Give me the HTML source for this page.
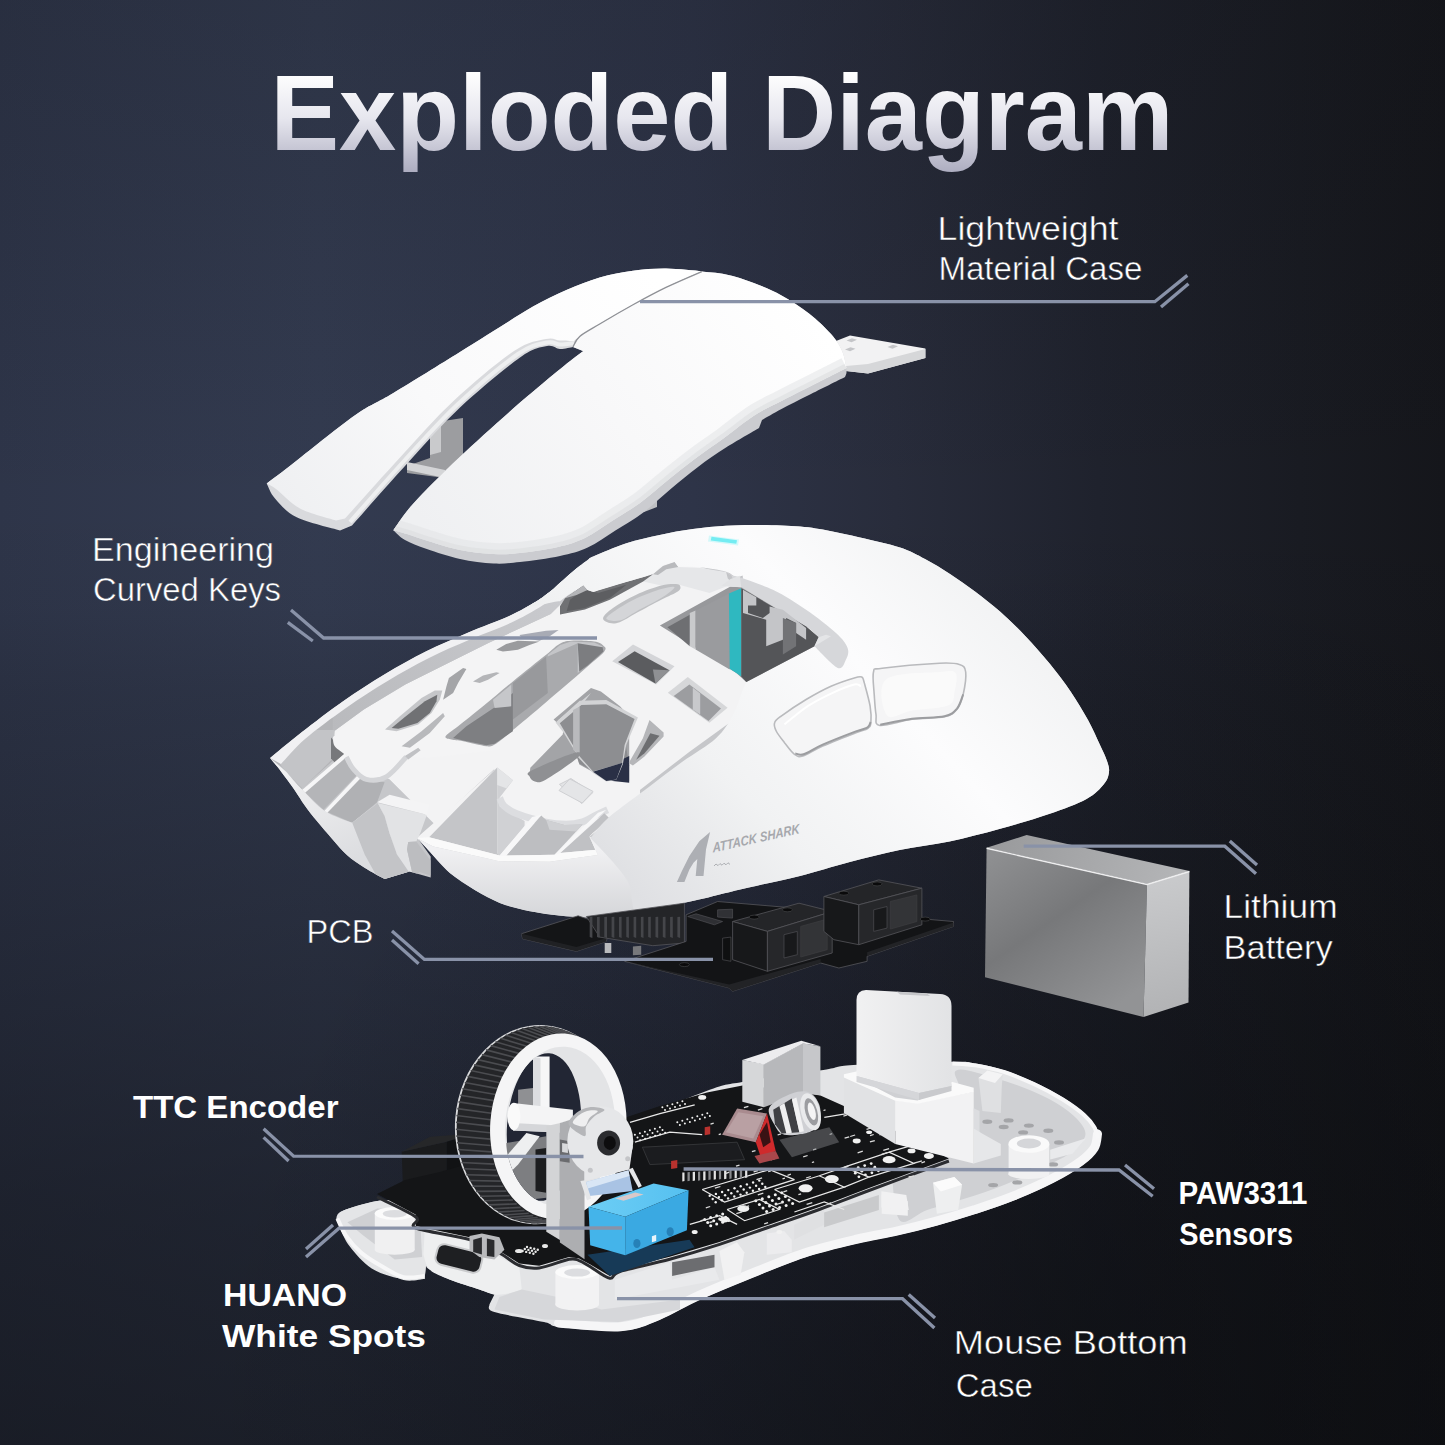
<!DOCTYPE html>
<html><head><meta charset="utf-8"><title>Exploded Diagram</title>
<style>html,body{margin:0;padding:0;background:#14161c;overflow:hidden}svg{display:block;font-family:"Liberation Sans",sans-serif;}</style>
</head><body>
<svg width="1445" height="1445" viewBox="0 0 1445 1445">
<defs>
<linearGradient id="bg" gradientUnits="userSpaceOnUse" x1="0" y1="0" x2="1445" y2="0">
<stop offset="0" stop-color="#2e3549"/><stop offset="0.22" stop-color="#333b50"/><stop offset="0.48" stop-color="#2e3448"/><stop offset="0.62" stop-color="#282c3b"/><stop offset="0.76" stop-color="#1f222d"/><stop offset="0.9" stop-color="#191b22"/><stop offset="1" stop-color="#15161b"/>
</linearGradient>
<linearGradient id="bg2" gradientUnits="userSpaceOnUse" x1="0" y1="0" x2="0" y2="1445">
<stop offset="0" stop-color="#0c0d10" stop-opacity="0.16"/><stop offset="0.14" stop-color="#0c0d10" stop-opacity="0.10"/><stop offset="0.28" stop-color="#0c0d10" stop-opacity="0.03"/><stop offset="0.35" stop-color="#0c0d10" stop-opacity="0"/><stop offset="0.42" stop-color="#0c0d10" stop-opacity="0.04"/><stop offset="0.48" stop-color="#0c0d10" stop-opacity="0.14"/><stop offset="0.62" stop-color="#0c0d10" stop-opacity="0.27"/><stop offset="0.72" stop-color="#0c0d10" stop-opacity="0.37"/><stop offset="0.83" stop-color="#0c0d10" stop-opacity="0.49"/><stop offset="1" stop-color="#0c0d10" stop-opacity="0.61"/>
</linearGradient>
<radialGradient id="bg3" gradientUnits="userSpaceOnUse" cx="1100" cy="1445" r="900">
<stop offset="0" stop-color="#08090b" stop-opacity="0.36"/><stop offset="0.5" stop-color="#08090b" stop-opacity="0.17"/><stop offset="1" stop-color="#08090b" stop-opacity="0"/>
</radialGradient>
<linearGradient id="tg" gradientUnits="userSpaceOnUse" x1="0" y1="72" x2="0" y2="176">
<stop offset="0" stop-color="#ffffff"/><stop offset="0.45" stop-color="#e6e6ee"/><stop offset="1" stop-color="#a9a9bd"/>
</linearGradient>
</defs>
<rect x="0" y="0" width="1445" height="1445" fill="url(#bg)"/>
<rect x="0" y="0" width="1445" height="1445" fill="url(#bg2)"/>
<rect x="0" y="0" width="1445" height="1445" fill="url(#bg3)"/>
<g id="top">
<defs>
<linearGradient id="tL" gradientUnits="userSpaceOnUse" x1="300" y1="520" x2="650" y2="270"><stop offset="0" stop-color="#eff0f2"/><stop offset="0.4" stop-color="#f9f9fa"/><stop offset="1" stop-color="#ffffff"/></linearGradient>
<linearGradient id="tR" gradientUnits="userSpaceOnUse" x1="450" y1="560" x2="800" y2="300"><stop offset="0" stop-color="#eff0f2"/><stop offset="0.5" stop-color="#f8f8f9"/><stop offset="1" stop-color="#ffffff"/></linearGradient>
</defs>
<polygon points="430.0,423.0 463.0,418.0 463.0,470.0 445.0,478.0 407.0,473.0 407.0,466.0 430.0,458.0" fill="#9c9da0"/>
<polygon points="430.0,428.0 441.0,425.0 441.0,452.0 430.0,455.0" fill="#c9cacc"/>
<polygon points="407.0,462.0 445.0,470.0 445.0,478.0 407.0,470.0" fill="#d4d5d7"/>
<polygon points="640.0,497.0 657.0,490.0 657.0,507.0 644.0,512.0" fill="#bfc0c3"/>
<polygon points="836.0,341.0 850.0,335.5 925.4,348.5 925.4,358.0 868.0,373.5 846.0,371.0" fill="#f2f2f3"/>
<polygon points="925.4,349.0 925.4,358.0 868.0,373.5 846.0,371.0 846.0,366.0 868.0,364.0" fill="#d6d7d9"/>
<polygon points="846.5,340.5 852.0,338.3 857.0,339.7 851.5,342.3" fill="#c4c5c8"/>
<polygon points="845.0,349.5 850.5,347.3 855.5,348.7 850.0,351.3" fill="#c4c5c8"/>
<polygon points="887.5,347.0 893.0,344.8 898.0,346.2 892.5,348.8" fill="#c4c5c8"/>
<path d="M266.7 483.5C271.1 480.2 283.0 471.3 293.0 463.5C303.0 455.7 315.6 445.4 326.7 436.8C337.8 428.2 348.6 419.3 359.7 412.0C370.8 404.7 376.7 403.0 393.4 393.0C410.1 383.0 442.2 363.0 460.0 352.0C477.8 341.0 487.8 334.6 500.0 327.0C512.2 319.4 521.9 312.7 533.0 306.5C544.1 300.3 555.3 294.9 566.4 290.0C577.5 285.1 588.6 280.6 599.7 277.4C610.8 274.2 622.0 272.3 633.0 270.8C644.0 269.3 654.5 268.5 666.0 268.6C677.5 268.7 695.8 270.9 701.8 271.3C695.8 274.0 677.5 281.8 666.0 287.4C654.5 293.0 644.0 298.7 633.0 304.8C622.0 310.9 608.6 318.7 599.7 324.0C590.8 329.3 584.2 332.6 579.7 336.4C575.2 340.2 574.1 345.2 573.0 347.0C570.8 347.3 564.3 349.2 560.0 349.0C555.7 348.8 553.7 344.6 547.0 346.0C540.3 347.4 534.5 347.2 520.0 357.5C505.5 367.8 478.9 389.8 460.0 407.5C441.1 425.2 424.8 444.3 406.8 464.0C388.8 483.7 361.1 515.2 352.0 525.5L340.0 530.5C332.8 528.3 307.5 522.6 296.7 517.3C285.9 512.0 280.0 504.1 275.0 498.5C270.0 492.9 268.1 486.0 266.7 483.5Z" fill="#d9dadd"/>
<path d="M266.7 483.5C271.1 480.2 283.0 471.3 293.0 463.5C303.0 455.7 315.6 445.4 326.7 436.8C337.8 428.2 348.6 419.3 359.7 412.0C370.8 404.7 376.7 403.0 393.4 393.0C410.1 383.0 442.2 363.0 460.0 352.0C477.8 341.0 487.8 334.6 500.0 327.0C512.2 319.4 521.9 312.7 533.0 306.5C544.1 300.3 555.3 294.9 566.4 290.0C577.5 285.1 588.6 280.6 599.7 277.4C610.8 274.2 622.0 272.3 633.0 270.8C644.0 269.3 654.5 268.5 666.0 268.6C677.5 268.7 695.8 270.9 701.8 271.3C695.8 274.0 677.5 281.8 666.0 287.4C654.5 293.0 644.0 298.7 633.0 304.8C622.0 310.9 608.6 318.7 599.7 324.0C590.8 329.3 584.0 333.6 579.7 336.4C575.4 339.2 575.0 340.2 574.0 341.0C571.7 340.9 564.7 340.8 560.0 340.5C555.3 340.2 553.7 337.2 546.0 339.0C538.3 340.8 529.3 340.8 514.0 351.0C498.7 361.2 473.0 382.8 454.0 400.5C435.0 418.2 418.2 437.8 400.0 457.5C381.8 477.2 354.2 508.3 345.0 518.5L336.0 520.5C330.0 518.5 310.0 513.8 300.0 508.5C290.0 503.2 281.6 493.2 276.0 489.0C270.4 484.8 268.2 484.4 266.7 483.5Z" fill="url(#tL)"/>
<path d="M574.0 343.0C571.7 343.2 564.5 344.6 560.0 344.5C555.5 344.4 554.0 340.9 547.0 342.5C540.0 344.1 532.8 343.8 518.0 354.0C503.2 364.2 477.0 386.2 458.0 404.0C439.0 421.8 422.0 441.3 404.0 461.0C386.0 480.7 359.0 511.8 350.0 522.0" fill="none" stroke="#eeeff0" stroke-width="4"/>
<path d="M393.4 530.2C396.7 525.8 402.3 515.7 413.4 503.5C424.5 491.3 441.1 474.6 460.0 456.8C478.9 439.0 506.8 414.0 526.8 396.8C546.8 379.6 569.8 360.7 580.0 353.4C590.2 346.1 586.7 353.1 588.0 353.0L573.0 347.0C574.1 345.2 575.2 340.2 579.7 336.4C584.2 332.6 590.8 329.3 599.7 324.0C608.6 318.7 622.0 310.9 633.0 304.8C644.0 298.7 654.5 292.9 666.0 287.4C677.5 281.9 695.8 274.2 701.8 271.6C705.8 272.1 717.3 272.7 726.0 274.6C734.7 276.5 744.5 279.5 753.8 283.0C763.0 286.5 772.3 290.3 781.5 295.4C790.7 300.5 800.8 307.0 809.0 313.4C817.2 319.8 825.5 327.8 831.0 334.0C836.5 340.2 839.4 344.7 842.0 350.7C844.6 356.7 846.0 365.6 846.5 370.0C847.0 374.4 845.2 375.8 845.0 377.0C839.0 380.0 819.6 389.7 809.0 395.0C798.4 400.3 789.3 404.8 781.5 409.0C773.7 413.2 765.2 418.2 762.0 420.0L759.0 428.0C753.5 431.3 736.2 441.1 726.0 447.6C715.8 454.1 707.2 460.1 698.0 467.0C688.8 473.9 679.9 481.4 670.7 489.0C661.5 496.6 652.3 505.8 643.0 512.7C633.7 519.7 624.2 524.9 615.0 530.7C605.8 536.5 596.9 543.3 587.7 547.5C578.5 551.7 571.3 553.6 560.0 556.0C548.7 558.4 531.1 560.8 520.0 562.0C508.9 563.2 503.5 564.0 493.5 563.5C483.5 563.0 471.1 561.4 460.0 559.0C448.9 556.6 436.0 552.2 426.8 549.0C417.6 545.8 410.6 543.1 405.0 540.0C399.4 536.9 395.3 531.8 393.4 530.2Z" fill="#cbccd0"/>
<path d="M393.4 530.2C396.7 525.8 402.3 515.7 413.4 503.5C424.5 491.3 441.1 474.6 460.0 456.8C478.9 439.0 506.8 414.0 526.8 396.8C546.8 379.6 569.8 360.7 580.0 353.4C590.2 346.1 586.7 353.1 588.0 353.0L573.0 347.0C574.1 345.2 575.2 340.2 579.7 336.4C584.2 332.6 590.8 329.3 599.7 324.0C608.6 318.7 622.0 310.9 633.0 304.8C644.0 298.7 654.5 292.9 666.0 287.4C677.5 281.9 695.8 274.2 701.8 271.6C705.8 272.1 717.3 272.7 726.0 274.6C734.7 276.5 744.5 279.5 753.8 283.0C763.0 286.5 772.3 290.3 781.5 295.4C790.7 300.5 800.8 307.0 809.0 313.4C817.2 319.8 825.5 327.8 831.0 334.0C836.5 340.2 839.4 345.0 842.0 350.7C844.6 356.4 845.8 365.1 846.5 368.0C840.2 371.2 819.8 381.5 809.0 387.0C798.2 392.5 790.5 396.3 781.5 401.0C772.5 405.7 764.6 408.8 755.0 415.0C745.4 421.2 733.8 430.8 724.0 438.0C714.2 445.2 705.3 451.0 696.0 458.0C686.7 465.0 677.3 472.5 668.0 480.0C658.7 487.5 649.3 496.2 640.0 503.0C630.7 509.8 621.2 515.2 612.0 521.0C602.8 526.8 594.0 533.7 585.0 538.0C576.0 542.3 568.8 544.5 558.0 547.0C547.2 549.5 530.8 551.8 520.0 553.0C509.2 554.2 503.5 554.5 493.5 554.0C483.5 553.5 470.9 552.2 460.0 550.0C449.1 547.8 436.8 543.7 428.0 541.0C419.2 538.3 412.8 535.8 407.0 534.0C401.2 532.2 395.7 530.8 393.4 530.2Z" fill="url(#tR)"/>
<clipPath id="rtc"><path d="M393.4 530.2C396.7 525.8 402.3 515.7 413.4 503.5C424.5 491.3 441.1 474.6 460.0 456.8C478.9 439.0 506.8 414.0 526.8 396.8C546.8 379.6 569.8 360.7 580.0 353.4C590.2 346.1 586.7 353.1 588.0 353.0L573.0 347.0C574.1 345.2 575.2 340.2 579.7 336.4C584.2 332.6 590.8 329.3 599.7 324.0C608.6 318.7 622.0 310.9 633.0 304.8C644.0 298.7 654.5 292.9 666.0 287.4C677.5 281.9 695.8 274.2 701.8 271.6C705.8 272.1 717.3 272.7 726.0 274.6C734.7 276.5 744.5 279.5 753.8 283.0C763.0 286.5 772.3 290.3 781.5 295.4C790.7 300.5 800.8 307.0 809.0 313.4C817.2 319.8 825.5 327.8 831.0 334.0C836.5 340.2 839.4 345.0 842.0 350.7C844.6 356.4 845.8 365.1 846.5 368.0C840.2 371.2 819.8 381.5 809.0 387.0C798.2 392.5 790.5 396.3 781.5 401.0C772.5 405.7 764.6 408.8 755.0 415.0C745.4 421.2 733.8 430.8 724.0 438.0C714.2 445.2 705.3 451.0 696.0 458.0C686.7 465.0 677.3 472.5 668.0 480.0C658.7 487.5 649.3 496.2 640.0 503.0C630.7 509.8 621.2 515.2 612.0 521.0C602.8 526.8 594.0 533.7 585.0 538.0C576.0 542.3 568.8 544.5 558.0 547.0C547.2 549.5 530.8 551.8 520.0 553.0C509.2 554.2 503.5 554.5 493.5 554.0C483.5 553.5 470.9 552.2 460.0 550.0C449.1 547.8 436.8 543.7 428.0 541.0C419.2 538.3 412.8 535.8 407.0 534.0C401.2 532.2 395.7 530.8 393.4 530.2Z"/></clipPath>
<g clip-path="url(#rtc)"><path d="M846.5 368.0C840.2 371.2 819.8 381.5 809.0 387.0C798.2 392.5 790.5 396.3 781.5 401.0C772.5 405.7 764.6 408.8 755.0 415.0C745.4 421.2 733.8 430.8 724.0 438.0C714.2 445.2 705.3 451.0 696.0 458.0C686.7 465.0 677.3 472.5 668.0 480.0C658.7 487.5 649.3 496.2 640.0 503.0C630.7 509.8 621.2 515.2 612.0 521.0C602.8 526.8 594.0 533.7 585.0 538.0C576.0 542.3 568.8 544.5 558.0 547.0C547.2 549.5 530.8 551.8 520.0 553.0C509.2 554.2 503.5 554.5 493.5 554.0C483.5 553.5 470.9 552.2 460.0 550.0C449.1 547.8 436.8 543.7 428.0 541.0C419.2 538.3 412.8 535.8 407.0 534.0C401.2 532.2 395.3 530.7 393.0 530.0" fill="none" stroke="#e2e3e6" stroke-width="22" opacity="0.55"/>
<path d="M846.5 368.0C840.2 371.2 819.8 381.5 809.0 387.0C798.2 392.5 790.5 396.3 781.5 401.0C772.5 405.7 764.6 408.8 755.0 415.0C745.4 421.2 733.8 430.8 724.0 438.0C714.2 445.2 705.3 451.0 696.0 458.0C686.7 465.0 677.3 472.5 668.0 480.0C658.7 487.5 649.3 496.2 640.0 503.0C630.7 509.8 621.2 515.2 612.0 521.0C602.8 526.8 594.0 533.7 585.0 538.0C576.0 542.3 568.8 544.5 558.0 547.0C547.2 549.5 530.8 551.8 520.0 553.0C509.2 554.2 503.5 554.5 493.5 554.0C483.5 553.5 470.9 552.2 460.0 550.0C449.1 547.8 436.8 543.7 428.0 541.0C419.2 538.3 412.8 535.8 407.0 534.0C401.2 532.2 395.3 530.7 393.0 530.0" fill="none" stroke="#dcdde0" stroke-width="9" opacity="0.6"/>
</g>
<path d="M701.8 271.6C695.8 274.2 677.5 281.9 666.0 287.4C654.5 292.9 644.0 298.7 633.0 304.8C622.0 310.9 608.6 318.7 599.7 324.0C590.8 329.3 584.2 332.6 579.7 336.4C575.2 340.2 574.1 345.2 573.0 347.0" fill="none" stroke="#8f9196" stroke-width="1.3"/>
</g>
<g id="mid">
<defs><linearGradient id="mS" gradientUnits="userSpaceOnUse" x1="640" y1="900" x2="1000" y2="560"><stop offset="0" stop-color="#dfe0e3"/><stop offset="0.3" stop-color="#f1f2f3"/><stop offset="0.65" stop-color="#fcfcfd"/><stop offset="1" stop-color="#f0f1f2"/></linearGradient><linearGradient id="mF" gradientUnits="userSpaceOnUse" x1="0" y1="850" x2="0" y2="915"><stop offset="0" stop-color="#f0f0f2"/><stop offset="1" stop-color="#d6d7da"/></linearGradient><linearGradient id="mW" gradientUnits="userSpaceOnUse" x1="280" y1="800" x2="600" y2="600"><stop offset="0" stop-color="#b4b5b8"/><stop offset="1" stop-color="#cbccd0"/></linearGradient><linearGradient id="mL" gradientUnits="userSpaceOnUse" x1="280" y1="760" x2="330" y2="870"><stop offset="0" stop-color="#f4f4f5"/><stop offset="1" stop-color="#dcdde0"/></linearGradient><clipPath id="silc"><path d="M270.0 758.0C275.2 753.7 289.3 741.8 301.5 732.3C313.7 722.8 329.1 710.9 343.0 701.2C356.9 691.5 370.8 682.5 384.6 674.2C398.5 665.9 412.3 658.2 426.1 651.3C439.9 644.4 453.8 638.6 467.6 632.7C481.4 626.8 497.7 621.2 509.1 616.0C520.5 610.8 529.2 605.6 536.1 601.5C543.0 597.4 546.7 594.2 550.7 591.1C554.7 588.0 556.1 586.2 560.0 582.8C563.9 579.4 569.4 574.3 574.0 570.5C578.6 566.7 584.5 562.3 587.7 560.0C590.9 557.7 586.8 559.3 593.2 556.5C599.7 553.7 615.3 546.8 626.4 543.2C637.5 539.6 648.6 537.3 659.7 534.9C670.8 532.5 681.9 530.5 692.9 529.0C703.9 527.5 714.9 526.4 726.0 525.7C737.1 525.0 747.0 524.9 759.3 525.0C771.6 525.1 788.2 525.6 800.0 526.6C811.8 527.6 820.0 529.2 830.0 531.0C840.0 532.8 848.3 534.8 860.0 537.5C871.7 540.2 889.2 543.9 900.0 547.5C910.8 551.1 916.7 554.6 925.0 559.0C933.3 563.4 941.7 568.6 950.0 574.0C958.3 579.4 966.7 585.2 975.0 591.5C983.3 597.8 991.7 604.2 1000.0 611.6C1008.3 619.0 1016.7 627.0 1025.0 635.7C1033.3 644.4 1042.4 654.7 1050.0 664.0C1057.6 673.3 1064.3 682.1 1070.6 691.4C1076.9 700.7 1083.1 711.1 1088.0 720.0C1092.9 728.9 1096.8 738.2 1100.0 745.0C1103.2 751.8 1105.5 756.5 1107.0 761.0C1108.5 765.5 1109.5 768.2 1109.0 772.0C1108.5 775.8 1107.8 779.5 1104.0 784.0C1100.2 788.5 1095.7 794.0 1086.5 799.0C1077.3 804.0 1063.5 809.0 1049.0 814.0C1034.5 819.0 1015.9 824.4 999.3 829.0C982.7 833.6 966.1 837.9 949.5 841.4C932.9 844.9 916.2 846.6 899.6 850.0C883.0 853.4 866.4 857.7 849.8 862.0C833.2 866.3 815.0 872.2 800.0 876.0C785.0 879.8 771.3 882.4 760.0 885.0C748.7 887.6 742.2 889.0 732.0 891.4C721.8 893.8 712.2 896.5 699.0 899.5C685.8 902.5 665.0 907.0 652.5 909.7C640.0 912.5 632.8 914.6 624.0 916.0C615.2 917.4 609.7 918.0 600.0 918.0C590.3 918.0 576.0 917.1 566.0 916.3C556.0 915.5 547.7 914.2 540.0 913.0C532.3 911.8 526.7 910.7 520.0 909.0C513.3 907.3 507.2 906.2 499.7 903.0C492.1 899.8 483.0 895.0 474.7 890.0C466.4 885.0 457.2 879.3 449.8 873.0C442.4 866.7 435.1 857.5 430.0 852.0C424.9 846.5 420.8 842.0 419.0 840.0L430.7 856.5L430.7 877.6L409.5 871.4L384.6 878.9C381.3 877.0 370.8 871.7 364.6 867.7C358.4 863.8 352.6 860.0 347.2 855.2C341.8 850.4 337.2 844.6 332.2 839.0C327.2 833.4 321.9 827.2 317.3 821.6C312.7 816.0 308.5 810.6 304.8 805.4C301.1 800.2 298.2 795.2 294.9 790.4C291.6 785.6 287.8 780.6 284.9 776.7C282.0 772.8 279.9 769.9 277.4 766.8C274.9 763.7 271.2 759.5 270.0 758.0Z"/></clipPath></defs>
<path d="M270.0 758.0C275.2 753.7 289.3 741.8 301.5 732.3C313.7 722.8 329.1 710.9 343.0 701.2C356.9 691.5 370.8 682.5 384.6 674.2C398.5 665.9 412.3 658.2 426.1 651.3C439.9 644.4 453.8 638.6 467.6 632.7C481.4 626.8 497.7 621.2 509.1 616.0C520.5 610.8 529.2 605.6 536.1 601.5C543.0 597.4 546.7 594.2 550.7 591.1C554.7 588.0 556.1 586.2 560.0 582.8C563.9 579.4 569.4 574.3 574.0 570.5C578.6 566.7 584.5 562.3 587.7 560.0C590.9 557.7 586.8 559.3 593.2 556.5C599.7 553.7 615.3 546.8 626.4 543.2C637.5 539.6 648.6 537.3 659.7 534.9C670.8 532.5 681.9 530.5 692.9 529.0C703.9 527.5 714.9 526.4 726.0 525.7C737.1 525.0 747.0 524.9 759.3 525.0C771.6 525.1 788.2 525.6 800.0 526.6C811.8 527.6 820.0 529.2 830.0 531.0C840.0 532.8 848.3 534.8 860.0 537.5C871.7 540.2 889.2 543.9 900.0 547.5C910.8 551.1 916.7 554.6 925.0 559.0C933.3 563.4 941.7 568.6 950.0 574.0C958.3 579.4 966.7 585.2 975.0 591.5C983.3 597.8 991.7 604.2 1000.0 611.6C1008.3 619.0 1016.7 627.0 1025.0 635.7C1033.3 644.4 1042.4 654.7 1050.0 664.0C1057.6 673.3 1064.3 682.1 1070.6 691.4C1076.9 700.7 1083.1 711.1 1088.0 720.0C1092.9 728.9 1096.8 738.2 1100.0 745.0C1103.2 751.8 1105.5 756.5 1107.0 761.0C1108.5 765.5 1109.5 768.2 1109.0 772.0C1108.5 775.8 1107.8 779.5 1104.0 784.0C1100.2 788.5 1095.7 794.0 1086.5 799.0C1077.3 804.0 1063.5 809.0 1049.0 814.0C1034.5 819.0 1015.9 824.4 999.3 829.0C982.7 833.6 966.1 837.9 949.5 841.4C932.9 844.9 916.2 846.6 899.6 850.0C883.0 853.4 866.4 857.7 849.8 862.0C833.2 866.3 815.0 872.2 800.0 876.0C785.0 879.8 771.3 882.4 760.0 885.0C748.7 887.6 742.2 889.0 732.0 891.4C721.8 893.8 712.2 896.5 699.0 899.5C685.8 902.5 665.0 907.0 652.5 909.7C640.0 912.5 632.8 914.6 624.0 916.0C615.2 917.4 609.7 918.0 600.0 918.0C590.3 918.0 576.0 917.1 566.0 916.3C556.0 915.5 547.7 914.2 540.0 913.0C532.3 911.8 526.7 910.7 520.0 909.0C513.3 907.3 507.2 906.2 499.7 903.0C492.1 899.8 483.0 895.0 474.7 890.0C466.4 885.0 457.2 879.3 449.8 873.0C442.4 866.7 435.1 857.5 430.0 852.0C424.9 846.5 420.8 842.0 419.0 840.0L430.7 856.5L430.7 877.6L409.5 871.4L384.6 878.9C381.3 877.0 370.8 871.7 364.6 867.7C358.4 863.8 352.6 860.0 347.2 855.2C341.8 850.4 337.2 844.6 332.2 839.0C327.2 833.4 321.9 827.2 317.3 821.6C312.7 816.0 308.5 810.6 304.8 805.4C301.1 800.2 298.2 795.2 294.9 790.4C291.6 785.6 287.8 780.6 284.9 776.7C282.0 772.8 279.9 769.9 277.4 766.8C274.9 763.7 271.2 759.5 270.0 758.0Z" fill="#c6c7ca"/>
<g clip-path="url(#silc)">
<polygon points="332.7,732.3 363.8,709.5 405.3,684.6 446.8,663.8 488.4,643.0 519.5,628.5 550.7,614.0 575.0,590.0 590.0,575.0 603.6,557.4 634.7,554.9 679.6,561.1 734.4,577.3 749.3,592.2 809.1,619.7 845.3,658.3 759.3,694.4 734.4,719.3 689.5,751.7 634.7,794.0 589.9,836.4 591.3,811.6 509.1,816.6 494.2,769.3 434.4,824.1 389.5,779.2 354.7,764.3 342.2,749.3" fill="#f3f3f4"/>
<polygon points="416.6,838.1 497.2,767.5 516.3,750.0 640.0,750.0 640.0,798.2 589.4,836.4 597.7,854.7 499.7,861.3" fill="#f3f3f4"/>
<polygon points="270.0,758.0 301.5,732.3 343.0,701.2 384.6,674.2 426.1,651.3 467.6,632.7 509.1,616.0 536.1,601.5 550.7,591.1 560.0,582.8 574.0,570.5 587.7,561.0 590.0,575.0 575.0,590.0 550.7,614.0 519.5,628.5 488.4,643.0 446.8,663.8 405.3,684.6 363.8,709.5 332.7,732.3 333.5,760.0 300.0,790.0 283.0,768.0" fill="url(#mW)"/>
<polygon points="283.0,768.0 301.5,742.0 332.7,715.0 332.7,732.3 333.5,760.0 300.0,790.0" fill="#b4b5b8"/>
<polygon points="275.0,756.8 307.4,730.0 334.8,730.0 332.9,758.6 302.4,788.5 286.2,772.4" fill="#c3c4c7"/>
<polygon points="331.0,737.5 344.7,753.7 334.8,762.4 331.0,758.6" fill="#77787b"/>
<polygon points="304.2,791.7 344.7,754.9 357.2,774.8 323.5,809.7" fill="#b4b5b8"/>
<polygon points="326.0,811.6 362.2,773.6 368.4,779.8 384.6,782.3 377.1,802.2 352.2,822.8" fill="#b0b1b4"/>
<polygon points="302.4,789.8 344.7,753.4 347.2,756.4 305.1,792.7" fill="#f6f6f7"/>
<polygon points="324.5,810.7 360.9,772.1 363.7,775.1 326.9,813.2" fill="#f6f6f7"/>
<path d="M333.0 737.0C338.1 732.7 351.8 719.5 363.8 711.0C375.9 702.5 391.5 693.7 405.3 686.0C419.1 678.3 433.0 672.0 446.8 665.0C460.6 658.0 481.5 647.5 488.4 644.0L500.0 654.8L500.0 749.5C487.7 750.9 441.8 756.7 426.1 757.8C410.5 758.9 412.8 753.1 406.2 756.1C399.5 759.2 389.6 772.8 386.2 776.1C382.9 776.5 371.8 780.0 366.3 778.6C360.8 777.2 356.3 771.5 353.0 767.8C349.7 764.0 349.4 759.7 346.4 756.1C343.3 752.5 337.0 749.4 334.8 746.2C332.5 743.0 333.3 738.5 333.0 737.0Z" fill="#f4f4f5"/>
<path d="M346.4 757.0C347.5 758.9 349.7 764.9 353.0 768.6C356.3 772.3 360.8 778.0 366.3 779.4C371.8 780.8 379.6 780.6 386.2 776.9C392.9 773.2 402.9 760.3 406.2 757.0" fill="none" stroke="#d4d5d8" stroke-width="5"/>
<polygon points="385.0,729.6 399.9,716.3 421.5,698.0 434.8,690.5 442.3,690.5 439.8,699.7 431.5,713.0 418.2,724.6 396.6,731.2" fill="#c5c6c9"/>
<polygon points="391.6,727.9 404.9,717.1 424.9,701.3 437.3,694.7 436.5,701.3 429.8,713.0 417.4,722.9 398.3,728.7" fill="#707174"/>
<polygon points="448.9,678.1 463.1,668.1 466.4,668.9 458.1,683.1 453.1,693.0 443.1,699.7 446.4,686.4" fill="#a4a5a8"/>
<polygon points="473.0,681.4 483.0,675.6 496.3,672.3 499.6,673.1 488.0,679.7 479.7,683.1" fill="#b4b5b8"/>
<polygon points="496.3,649.8 506.2,644.0 517.9,640.7 539.5,641.5 529.5,644.9 517.9,649.8 502.9,651.5" fill="#9a9b9e"/>
<polygon points="519.5,634.9 546.1,630.7 558.6,629.9 549.4,636.5 539.5,640.7 521.2,637.4" fill="#a8abb5"/>
<polygon points="401.6,746.2 421.5,731.2 443.1,713.0 444.8,716.3 429.8,732.9 409.9,747.8" fill="#b8b9bc"/>
<polygon points="404.9,756.1 418.2,747.8 420.7,750.3 408.2,759.5" fill="#c0c1c4"/>
<path d="M445.6 736.2C446.7 734.0 451.8 731.2 458.1 726.2C464.3 721.3 473.9 713.8 483.0 706.3C492.1 698.8 502.4 690.0 512.9 681.4C523.4 672.8 538.4 661.0 546.1 654.8C553.9 648.6 555.2 646.4 559.4 644.0C563.6 641.7 565.2 641.1 571.0 640.7C576.8 640.3 588.9 640.7 594.3 641.5C599.7 642.4 601.8 644.0 603.4 645.7C605.1 647.3 606.9 648.0 604.3 651.5C601.6 655.0 594.6 660.4 587.6 666.4C580.7 672.5 572.4 679.7 562.7 688.0C553.0 696.3 538.4 708.8 529.5 716.3C520.6 723.8 515.4 728.2 509.6 732.9C503.8 737.6 498.5 742.3 494.6 744.5C490.7 746.7 491.6 746.7 486.3 746.2C481.1 745.6 468.9 742.3 463.1 741.2C457.2 740.1 454.3 740.4 451.4 739.5C448.5 738.7 444.5 738.4 445.6 736.2Z" fill="#a9aaad"/>
<polygon points="547.8,654.8 560.2,644.9 571.0,641.5 594.3,642.4 602.6,646.5 587.6,664.8 577.7,673.1 577.7,643.2 547.8,656.5" fill="#c4c5c8"/>
<polygon points="512.9,683.1 546.1,656.5 547.8,693.0 512.9,719.6" fill="#98999c"/>
<polygon points="453.1,737.9 466.4,726.2 496.3,706.3 512.9,693.0 512.9,731.2 494.6,743.7 486.3,745.3 463.1,740.4" fill="#7e7f82"/>
<polygon points="493.0,699.7 511.2,684.7 511.2,706.3 494.6,708.0" fill="#c6c7ca"/>
<polygon points="577.7,643.2 602.6,647.3 603.4,651.5 587.6,665.6 579.3,671.4" fill="#7c7d80"/>
<polygon points="553.6,719.6 591.0,688.0 600.9,691.4 620.0,706.3 629.2,716.3 629.2,781.1 594.3,772.8 579.3,764.5 576.8,756.1 572.7,753.7 543.6,779.4 534.5,780.2 529.5,774.4 530.3,767.8 562.7,734.6 563.6,728.7" fill="#a3a4a7"/>
<polygon points="557.7,720.4 591.0,693.0 579.3,708.0 577.7,716.3 569.4,719.6 567.7,731.2" fill="#d2d3d5"/>
<polygon points="579.3,708.0 620.0,708.0 629.2,766.1 595.9,772.8 579.3,763.6 574.4,749.5" fill="#8b8c8f"/>
<polygon points="594.3,772.8 629.2,756.1 629.2,782.7 612.6,781.1" fill="#2a3046"/>
<polygon points="559.4,784.4 571.0,778.6 592.6,792.7 581.8,803.5" fill="#e2e3e5" stroke="#cfd0d3" stroke-width="1"/>
<polygon points="560.0,606.3 565.0,598.3 583.3,585.5 587.4,590.0 593.2,592.0 598.2,590.4 626.4,582.1 646.4,576.2 653.9,573.4 663.0,565.9 674.6,562.1 678.3,567.1 701.2,567.9 726.1,572.1 736.1,578.4 726.1,586.4 709.5,593.0 676.3,583.9 661.2,585.5 643.1,581.4 609.8,599.7 584.9,609.6 560.0,614.6" fill="#e6e7e9"/>
<polygon points="560.0,606.3 565.0,598.3 583.3,585.5 587.4,590.0 593.2,592.0 598.2,590.4 626.4,582.1 646.4,576.2 653.0,574.3 643.1,581.4 609.8,599.7 584.9,609.6 560.0,614.6" fill="#707174"/>
<polygon points="570.0,599.7 583.3,589.7 598.2,593.0 626.4,584.7 609.8,598.0 584.9,608.0 566.6,611.3" fill="#5d5e61"/>
<polygon points="565.0,598.3 583.3,585.5 587.4,590.0 576.6,595.0" fill="#b4b5b8"/>
<polygon points="653.0,574.3 663.0,565.9 674.6,562.1 678.3,567.1 666.3,569.3 658.0,575.1" fill="#b9babd"/>
<polygon points="726.1,572.1 736.1,578.4 742.7,575.9 743.6,589.7 736.1,586.4 727.8,578.4" fill="#c4c5c8"/>
<path d="M603.1 618.0C603.6 615.5 607.5 611.9 613.0 608.0C618.6 604.2 628.3 598.5 636.3 594.8C644.3 591.0 654.6 587.4 661.2 585.6C667.8 583.8 673.0 583.8 676.1 584.0C679.3 584.1 680.0 585.2 680.3 586.4C680.6 587.7 681.0 589.2 677.8 591.4C674.6 593.6 668.1 596.1 661.2 599.7C654.3 603.3 643.2 609.3 636.3 613.0C629.4 616.8 624.1 620.5 619.7 622.2C615.2 623.8 612.5 623.7 609.7 623.0C606.9 622.3 602.5 620.5 603.1 618.0Z" fill="#bfc0c3"/>
<path d="M606.4 618.8C605.7 617.2 610.4 614.0 615.5 610.5C620.6 607.1 629.5 601.7 637.1 598.1C644.7 594.5 655.0 590.7 661.2 588.9C667.4 587.1 674.5 585.8 674.5 587.3C674.5 588.8 667.6 594.1 661.2 598.1C654.8 602.1 643.2 607.6 636.3 611.4C629.4 615.1 624.7 619.3 619.7 620.5C614.7 621.7 607.1 620.5 606.4 618.8Z" fill="#d4d5d8"/>
<polygon points="612.2,661.2 633.0,644.6 674.5,666.2 656.2,684.5" fill="#d4d5d8"/>
<polygon points="618.0,662.0 634.6,651.2 669.5,670.3 655.4,683.6" fill="#5b5c5f"/>
<polygon points="652.9,669.5 669.5,670.3 655.4,683.6" fill="#8f9093"/>
<polygon points="667.8,692.8 687.8,677.0 727.6,707.7 709.4,722.7" fill="#d6d7d9"/>
<polygon points="673.7,696.1 689.4,684.5 721.0,708.5 708.5,721.0" fill="#9c9da0"/>
<polygon points="692.8,687.8 700.2,693.6 700.2,714.4 692.8,709.4" fill="#c8c9cc"/>
<polygon points="555.6,722.4 579.7,700.8 606.3,700.0 637.9,717.4 626.2,744.9 622.9,764.0 616.3,779.7 606.3,781.4 593.0,773.1 578.1,757.3 575.6,752.3 564.0,733.2" fill="#d2d3d5"/>
<polygon points="559.8,723.3 581.4,705.0 606.3,704.2 634.6,719.1 624.6,744.9 622.1,763.1 593.0,771.4 579.7,756.5" fill="#8d8e91"/>
<polygon points="573.1,710.0 579.7,706.6 579.7,754.8 573.1,749.8" fill="#b9babd"/>
<polygon points="593.0,771.8 622.6,762.8 616.3,779.4 606.3,781.1" fill="#2a3046"/>
<path d="M573.1 753.2C580.8 750.9 582.6 752.9 578.1 757.3C573.5 761.7 552.9 775.7 545.7 779.7C538.5 783.7 537.6 781.9 534.9 781.4C532.2 780.8 530.1 778.2 529.6 776.4C529.0 774.6 524.3 774.5 531.6 770.6C538.8 766.7 565.3 755.4 573.1 753.2Z" fill="#8f9093"/>
<polygon points="649.5,719.9 663.6,732.4 663.6,736.5 644.5,756.5 632.9,765.6 628.7,763.1 642.9,738.2" fill="#b5b6b9"/>
<polygon points="650.3,733.2 659.5,735.7 644.5,753.2 636.2,759.8" fill="#6d6e71"/>
<polygon points="559.0,790.5 569.8,778.9 593.0,791.4 582.2,803.0" fill="#e4e5e7" stroke="#cfd0d3" stroke-width="1"/>
<polygon points="429.1,837.2 497.2,767.5 497.2,853.0 499.7,855.5" fill="#c4c5c8"/>
<polygon points="497.2,767.5 513.0,780.3 499.7,797.4 499.7,806.5 524.6,821.1 524.6,826.4 499.7,855.5 497.2,853.0" fill="#d0d1d4"/>
<polygon points="497.2,767.5 513.0,780.3 506.3,788.2 497.2,784.9" fill="#e4e5e7"/>
<path d="M499.7 797.9C500.4 799.2 501.1 803.1 503.8 805.7C506.6 808.3 509.5 810.8 516.3 813.5C523.1 816.2 536.2 820.0 544.5 821.8C552.8 823.6 559.7 824.3 566.1 824.3C572.5 824.3 577.7 823.3 582.7 821.8C587.7 820.3 591.9 817.1 596.0 815.1C600.2 813.2 605.7 810.7 607.6 809.8" fill="none" stroke="#dcdde0" stroke-width="7"/>
<polygon points="506.3,855.5 541.2,815.6 546.2,820.1 564.5,825.1 582.7,824.5 554.5,854.7" fill="#bdbec1"/>
<polygon points="546.2,820.1 564.5,825.1 582.7,824.5 576.1,831.4 549.5,829.8" fill="#cfd0d3"/>
<polygon points="560.3,853.0 604.3,813.2 609.6,818.5 592.7,833.1 589.4,836.4 596.0,849.7" fill="#c0c1c4"/>
<polygon points="499.7,855.5 532.1,817.0 541.5,814.8 506.3,855.5" fill="#f7f7f8"/>
<polygon points="554.5,854.7 598.0,812.8 606.3,809.8 559.8,853.0" fill="#f7f7f8"/>
<polygon points="416.6,838.1 433.2,846.4 499.7,861.3 549.5,861.7 597.7,855.0 589.4,836.4 602.7,843.1 615.9,853.9 627.6,868.0 635.9,882.9 640.9,897.9 644.2,914.5 651.0,911.0 624.0,916.5 600.0,918.5 566.0,917.0 540.0,913.5 520.0,909.5 499.7,903.5 474.7,890.5 449.8,873.5 430.0,852.5 419.0,840.0" fill="url(#mF)"/>
<polygon points="416.6,838.1 429.1,837.2 499.7,855.5 506.3,855.5 554.5,854.7 559.8,853.0 596.0,849.7 589.4,836.4 597.7,855.0 549.5,861.7 499.7,861.3 433.2,846.4" fill="#fafafa"/>
<path d="M270.0 758.0C271.6 761.7 275.6 772.0 279.9 779.8C284.3 787.6 290.3 796.4 296.1 804.7C302.0 813.0 308.4 822.2 314.8 829.7C321.3 837.1 328.1 843.6 334.8 849.6C341.4 855.6 347.6 861.2 354.7 865.8C361.7 870.3 371.5 874.4 377.1 877.0C382.7 879.6 386.4 880.6 388.3 881.3L413.2 877.0C410.5 873.2 401.8 864.5 397.0 854.6C392.3 844.6 387.8 825.8 384.6 817.2C381.4 808.6 378.9 805.3 377.7 802.9L352.2 822.8C347.6 820.8 333.1 816.5 324.8 811.0C316.5 805.5 308.8 796.3 302.4 789.8C295.9 783.3 288.9 774.7 286.2 771.7L270.0 758.0Z" fill="url(#mL)"/>
<polygon points="352.2,822.8 377.7,802.9 384.6,815.9 389.6,833.4 397.0,854.6 408.2,870.8 413.2,877.0 388.3,881.3 377.1,877.0 364.7,854.6" fill="#c3c4c7"/>
<polygon points="377.7,802.9 426.9,814.7 420.7,832.1 416.3,841.5 408.2,842.1 407.0,849.6 413.2,877.0 408.2,870.8 397.0,854.6 389.6,833.4 384.6,815.9" fill="#e2e3e5"/>
<polygon points="408.2,842.1 416.3,841.5 430.7,860.8 430.7,875.7 419.5,872.0 413.2,877.0 407.0,849.6" fill="#bcbdc0"/>
<polygon points="377.1,802.2 389.6,794.8 429.4,804.7 426.9,814.7" fill="#f4f4f5"/>
<path d="M270.0 758.0C275.2 753.7 289.3 741.8 301.5 732.3C313.7 722.8 329.1 710.9 343.0 701.2C356.9 691.5 370.8 682.5 384.6 674.2C398.5 665.9 412.3 658.2 426.1 651.3C439.9 644.4 453.8 638.6 467.6 632.7C481.4 626.8 497.7 621.2 509.1 616.0C520.5 610.8 529.2 605.6 536.1 601.5C543.0 597.4 546.7 594.2 550.7 591.1C554.7 588.0 556.1 586.2 560.0 582.8C563.9 579.4 569.4 574.1 574.0 570.5C578.6 566.9 585.4 562.6 587.7 561.0C587.6 562.2 589.1 565.2 587.0 568.0C584.9 570.8 579.2 574.3 575.0 578.0C570.8 581.7 565.7 586.8 562.0 590.0C558.3 593.2 556.9 594.5 553.0 597.5C549.1 600.5 545.4 603.8 538.5 608.0C531.6 612.2 522.9 617.2 511.5 622.5C500.1 627.8 483.8 633.6 470.0 639.5C456.2 645.4 442.7 651.1 429.0 658.0C415.3 664.9 401.4 672.7 387.6 681.0C373.8 689.3 359.8 698.3 346.0 708.0C332.2 717.7 315.8 729.7 305.0 739.0C294.2 748.3 285.0 759.8 281.0 764.0L270.0 758.0Z" fill="#f1f1f3"/>
<path d="M590.5 837.9C592.6 835.4 598.7 827.4 603.0 823.0C607.3 818.6 608.5 817.4 616.3 811.3C624.0 805.2 638.4 794.7 649.5 786.4C660.6 778.1 671.6 769.5 682.7 761.5C693.8 753.5 707.6 746.0 716.0 738.2C724.4 730.5 728.7 722.7 733.0 715.0C737.3 707.3 739.8 697.5 742.0 692.0C744.2 686.5 745.6 683.7 746.3 682.0L814.4 646.3L818.6 637.2C816.5 635.4 813.7 631.5 806.1 626.4C798.5 621.3 783.7 613.0 772.9 606.4C762.1 599.9 746.6 590.5 741.3 587.3L730.5 586.5L743.6 589.7L742.7 575.6L736.1 578.1C734.4 577.0 731.9 573.5 726.1 571.8C720.3 570.0 709.2 568.4 701.2 567.6C693.2 566.8 682.1 566.9 678.3 566.8L674.6 561.8C672.7 562.4 666.5 563.7 663.0 565.6C659.5 567.5 655.4 571.8 653.9 573.1C652.6 573.6 650.9 574.5 646.4 575.9C641.8 577.4 634.5 579.4 626.4 581.7C618.4 584.1 602.9 588.6 598.2 590.0C597.4 590.3 595.0 591.7 593.2 591.7C591.4 591.6 588.4 590.0 587.4 589.7L583.3 585.0C580.5 586.9 570.5 593.6 566.6 596.3C562.8 599.1 561.1 600.5 560.0 601.3C550.0 601.1 510.0 616.9 500.0 600.0C490.0 583.1 490.0 520.0 500.0 500.0C510.0 480.0 443.3 480.0 560.0 480.0C676.7 480.0 1093.3 430.0 1200.0 500.0C1306.7 570.0 1283.3 823.3 1200.0 900.0C1116.7 976.7 793.3 956.7 700.0 960.0C606.7 963.3 652.2 933.3 640.0 920.0C627.8 906.7 635.2 893.7 627.0 880.0C618.8 866.3 596.6 844.9 590.5 837.9Z" fill="url(#mS)"/>
<path d="M814.4 646.3L818.6 637.2C816.5 635.4 813.7 631.5 806.1 626.4C798.5 621.3 783.7 613.0 772.9 606.4C762.1 599.9 746.6 590.5 741.3 587.3C739.9 585.4 727.8 575.3 733.0 575.7C738.3 576.1 760.7 584.2 772.9 589.8C785.1 595.5 795.6 602.6 806.1 609.8C816.6 617.0 829.1 626.7 836.0 633.0C842.9 639.4 846.0 643.5 847.6 648.0C849.3 652.4 847.6 656.3 846.0 659.6C844.3 662.9 842.9 670.1 837.7 667.9C832.4 665.7 818.3 649.9 814.4 646.3Z" fill="#d6d7da"/>
</g>
<polygon points="659.9,625.5 730.5,586.5 741.3,587.3 806.1,626.4 818.6,637.2 814.4,646.3 746.3,682.0 736.3,672.9" fill="#97989b"/>
<polygon points="667.4,627.2 689.8,614.8 689.8,646.3" fill="#6e6f72"/>
<polygon points="689.8,613.1 695.6,610.6 695.6,649.6 689.8,646.3" fill="#c9cacc"/>
<polygon points="695.6,610.6 729.7,593.2 729.7,669.6 695.6,649.6" fill="#9a9b9e"/>
<polygon points="728.9,593.5 741.3,588.2 741.3,676.5 736.3,672.9 729.7,668.7" fill="#2fb8c0"/>
<polygon points="741.3,588.2 806.1,626.4 818.6,637.2 814.4,646.3 746.3,682.0 741.3,676.5" fill="#545558"/>
<polygon points="743.0,589.8 756.3,597.3 756.3,605.6 748.0,605.6 748.0,613.1 762.9,618.1 769.6,613.1 769.6,606.4 782.9,609.8 806.1,628.0 806.1,639.7 796.1,633.0 796.1,623.1 786.2,618.1 782.9,639.7 766.2,646.3 766.2,619.7 743.0,613.1" fill="#c4c5c8"/>
<polygon points="782.9,618.1 796.1,623.1 796.1,646.3 782.9,654.6" fill="#727376"/>
<polygon points="814.4,646.3 818.6,637.2 826.0,634.7 831.0,636.3 822.7,641.3" fill="#e4e5e7"/>
<polygon points="721.4,585.7 730.5,579.0 739.7,575.7 741.3,587.3 730.5,586.8" fill="#e2e3e5"/>
<path d="M774.6 722.7C775.4 720.2 775.9 720.0 781.2 716.1C786.5 712.2 797.8 704.5 806.1 699.5C814.4 694.5 823.0 689.8 831.0 686.2C839.1 682.6 849.2 679.4 854.3 677.9C859.4 676.4 860.1 676.2 861.8 677.0C863.4 677.9 862.9 678.0 864.3 682.9C865.6 687.7 869.0 699.5 870.1 706.1C871.2 712.8 871.3 719.0 870.9 722.7C870.5 726.5 870.1 726.9 867.6 728.5C865.1 730.2 863.4 729.8 855.9 732.7C848.5 735.6 831.6 742.1 822.7 746.0C813.9 749.9 807.5 754.6 802.8 755.9C798.1 757.3 797.5 756.5 794.5 754.3C791.4 752.1 787.6 746.5 784.5 742.7C781.5 738.8 777.9 734.4 776.2 731.0C774.6 727.7 773.7 725.2 774.6 722.7Z" fill="#f5f5f6" stroke="#b9babd" stroke-width="1.6"/>
<path d="M784.5 724.4C788.4 721.3 799.7 711.4 807.8 706.1C815.8 700.9 824.9 696.4 832.7 692.8C840.4 689.2 849.6 685.6 854.3 684.5C859.0 683.4 859.8 685.9 860.9 686.2" fill="none" stroke="#ffffff" stroke-width="2"/>
<path d="M795.3 753.5C796.7 753.6 799.1 755.8 803.6 754.3C808.2 752.8 814.0 748.5 822.7 744.7C831.4 740.8 848.5 734.2 855.9 731.4C863.4 728.5 865.1 729.0 867.6 727.4C870.0 725.8 870.1 722.8 870.6 721.9" fill="none" stroke="#9c9da0" stroke-width="2"/>
<path d="M873.5 672.0C874.8 667.6 871.2 669.7 882.2 668.2C893.2 666.8 926.6 663.9 939.5 663.2C952.4 662.6 955.1 663.0 959.4 664.5C963.8 665.9 965.0 667.0 965.7 672.0C966.3 677.0 964.6 688.2 963.2 694.4C961.7 700.6 960.1 705.6 957.0 709.3C953.8 713.1 952.0 715.2 944.5 716.8C937.0 718.5 922.9 717.8 912.1 719.3C901.3 720.8 885.7 726.4 879.7 725.5C873.7 724.7 876.9 719.5 876.0 714.3C875.1 709.1 874.7 701.4 874.2 694.4C873.8 687.3 872.2 676.3 873.5 672.0Z" fill="#f5f5f6" stroke="#b9babd" stroke-width="1.6"/>
<path d="M880.2 724.8C885.5 723.8 901.4 720.2 912.1 718.8C922.8 717.4 937.0 718.0 944.5 716.3C952.0 714.6 953.8 712.2 957.0 708.6C960.1 704.9 962.1 696.8 963.2 694.4" fill="none" stroke="#9c9da0" stroke-width="2"/>
<path d="M885.9 679.4C894.7 672.2 927.9 673.0 939.5 672.0C951.1 670.9 953.2 669.9 955.7 673.2C958.2 676.5 955.7 686.5 954.5 691.9C953.2 697.3 955.3 702.5 948.2 705.6C941.2 708.7 922.3 708.9 912.1 710.6C901.9 712.2 891.6 720.8 887.2 715.6C882.8 710.4 877.2 686.7 885.9 679.4Z" fill="#fafafa"/>
<polygon points="676.9,881.9 684.4,881.9 689.4,869.4 693.5,862.8 697.3,859.1 695.7,876.1 703.5,876.1 706.0,849.5 710.1,832.1 699.3,841.2 689.4,856.1 681.9,871.1" fill="#adafb4"/>
<text x="0" y="0" font-size="13.5" font-weight="700" font-style="italic" fill="#a6a8ad" textLength="89" lengthAdjust="spacingAndGlyphs" transform="translate(713,852.5) rotate(-12.5) skewX(-8)">ATTACK SHARK</text>
<path d="M714 866 l2 -2 l2 1.6 l2 -2 l2 1.6 l2 -2 l2 1.6 l2 -2 l2 1.6" fill="none" stroke="#a6a8ad" stroke-width="0.9"/>
<polygon points="709.0,535.5 739.0,539.5 738.0,545.5 708.0,541.5" fill="#8ff3f7" opacity="0.35"/>
<polygon points="711.5,536.8 737.0,540.2 736.3,543.8 710.8,540.4" fill="#74ecf2"/>
</g>
<g id="pcb" stroke-linejoin="round">
<polygon points="521.6,933.7 578.1,915.8 609.7,926.4 606.3,941.4 576.4,951.3 522.6,938.7" fill="#141517" stroke="#55565a" stroke-width="0.8"/>
<polygon points="521.6,933.7 576.4,947.0 606.3,938.1 606.3,941.4 576.4,951.3 522.6,938.7" fill="#202124"/>
<polygon points="586.4,916.5 684.4,903.2 684.4,943.0 652.8,945.7 599.7,937.1" fill="#242528" stroke="#55565a" stroke-width="0.8"/>
<polygon points="589.7,917.1 592.4,916.8 592.4,938.1 589.7,937.1" fill="#45464a"/>
<polygon points="597.0,917.1 599.7,916.8 599.7,938.1 597.0,937.1" fill="#45464a"/>
<polygon points="604.3,917.1 607.0,916.8 607.0,938.1 604.3,937.1" fill="#45464a"/>
<polygon points="611.6,917.1 614.3,916.8 614.3,938.1 611.6,937.1" fill="#45464a"/>
<polygon points="619.0,917.1 621.6,916.8 621.6,938.1 619.0,937.1" fill="#45464a"/>
<polygon points="626.3,917.1 628.9,916.8 628.9,938.1 626.3,937.1" fill="#45464a"/>
<polygon points="633.6,917.1 636.2,916.8 636.2,938.1 633.6,937.1" fill="#45464a"/>
<polygon points="640.9,917.1 643.5,916.8 643.5,938.1 640.9,937.1" fill="#45464a"/>
<polygon points="648.2,917.1 650.8,916.8 650.8,938.1 648.2,937.1" fill="#45464a"/>
<polygon points="655.5,917.1 658.2,916.8 658.2,938.1 655.5,937.1" fill="#45464a"/>
<polygon points="662.8,917.1 665.5,916.8 665.5,938.1 662.8,937.1" fill="#45464a"/>
<polygon points="670.1,917.1 672.8,916.8 672.8,938.1 670.1,937.1" fill="#45464a"/>
<polygon points="677.4,917.1 680.1,916.8 680.1,938.1 677.4,937.1" fill="#45464a"/>
<polygon points="604.7,943.0 611.3,943.0 611.3,953.0 604.7,953.0" fill="#b9babd"/>
<polygon points="632.9,946.4 641.2,945.7 641.2,954.7 632.9,955.3" fill="#77787b"/>
<polygon points="624.6,961.3 686.1,941.4 686.1,914.8 717.6,901.5 953.5,921.5 953.5,926.4 867.1,956.3 867.1,961.3 838.9,968.0 820.6,963.0 732.6,991.2 729.2,987.9" fill="#131416" stroke="#55565a" stroke-width="0.8"/>
<polygon points="624.6,961.3 729.2,984.6 820.6,959.0 820.6,963.0 732.6,991.2 729.2,987.9" fill="#222326"/>
<polygon points="867.1,956.3 953.5,926.4 953.5,922.5 867.1,952.3" fill="#222326"/>
<polygon points="687.7,916.5 696.0,913.8 722.6,921.5 714.3,924.8" fill="#2e2f33" stroke="#55565a" stroke-width="0.6"/>
<polygon points="717.6,909.8 732.6,909.2 732.6,918.1 717.6,917.1" fill="#303135" stroke="#55565a" stroke-width="0.6"/>
<polygon points="732.6,921.5 799.0,903.2 832.2,911.5 767.4,931.4" fill="#242528" stroke="#55565a" stroke-width="0.8"/>
<polygon points="732.6,921.5 767.4,931.4 767.4,971.3 732.6,959.7" fill="#17181a" stroke="#55565a" stroke-width="0.8"/>
<polygon points="767.4,931.4 832.2,911.5 832.2,953.0 767.4,971.3" fill="#26272a" stroke="#55565a" stroke-width="0.8"/>
<polygon points="784.0,934.7 797.3,931.4 797.3,954.7 784.0,958.0" fill="#18191b" stroke="#55565a" stroke-width="0.6"/>
<polygon points="800.7,926.4 827.2,919.1 827.2,949.7 800.7,957.0" fill="#333437" stroke="#3f4043" stroke-width="0.6"/>
<polygon points="823.9,896.5 878.7,879.9 921.9,888.2 858.8,904.8" fill="#242528" stroke="#55565a" stroke-width="0.8"/>
<polygon points="823.9,896.5 858.8,904.8 858.8,944.7 833.9,939.7 823.9,931.4" fill="#17181a" stroke="#55565a" stroke-width="0.8"/>
<polygon points="858.8,904.8 921.9,888.2 921.9,924.8 858.8,944.7" fill="#26272a" stroke="#55565a" stroke-width="0.8"/>
<polygon points="873.7,909.8 887.0,906.5 887.0,928.1 873.7,931.4" fill="#18191b" stroke="#55565a" stroke-width="0.6"/>
<polygon points="890.3,901.5 916.9,894.9 916.9,921.5 890.3,929.1" fill="#333437" stroke="#3f4043" stroke-width="0.6"/>
<polygon points="722.6,938.1 730.9,937.1 730.9,961.3 722.6,959.7" fill="#0f1011" stroke="#55565a" stroke-width="0.6"/>
<ellipse cx="754.2" cy="917.1" rx="5" ry="2" fill="#0a0a0b" stroke="#4a4b4e" stroke-width="0.6"/><ellipse cx="787.4" cy="909.8" rx="5" ry="2" fill="#0a0a0b" stroke="#4a4b4e" stroke-width="0.6"/><ellipse cx="843.8" cy="893.2" rx="5" ry="2" fill="#0a0a0b" stroke="#4a4b4e" stroke-width="0.6"/><ellipse cx="877.1" cy="883.9" rx="5" ry="2" fill="#0a0a0b" stroke="#4a4b4e" stroke-width="0.6"/><ellipse cx="925.2" cy="919.1" rx="5" ry="2" fill="#0a0a0b" stroke="#4a4b4e" stroke-width="0.6"/><ellipse cx="684.4" cy="964.6" rx="5" ry="2" fill="#0a0a0b" stroke="#4a4b4e" stroke-width="0.6"/></g>
<g id="bat">
<defs><linearGradient id="bF" gradientUnits="userSpaceOnUse" x1="1000" y1="850" x2="1110" y2="1010"><stop offset="0" stop-color="#8e8f91"/><stop offset="0.45" stop-color="#77787a"/><stop offset="1" stop-color="#929395"/></linearGradient><linearGradient id="bT" gradientUnits="userSpaceOnUse" x1="1000" y1="840" x2="1180" y2="880"><stop offset="0" stop-color="#9a9b9d"/><stop offset="1" stop-color="#b4b5b7"/></linearGradient><linearGradient id="bR" gradientUnits="userSpaceOnUse" x1="1150" y1="880" x2="1180" y2="1010"><stop offset="0" stop-color="#c9cacc"/><stop offset="1" stop-color="#b2b3b5"/></linearGradient></defs>
<polygon points="986.6,847.8 1147.0,884.0 1143.5,1017.0 985.0,977.3" fill="url(#bF)"/>
<polygon points="986.6,847.8 1026.6,835.0 1189.4,871.0 1147.0,884.0" fill="url(#bT)"/>
<polygon points="1147.0,884.0 1189.4,871.0 1188.5,1002.5 1143.5,1017.0" fill="url(#bR)"/>
<polyline points="986.6,848.3 1147.0,884.5 1189.4,871.5" fill="none" stroke="#eeeeef" stroke-width="1.4" />
</g>
<g id="bot">
<defs><linearGradient id="cG" gradientUnits="userSpaceOnUse" x1="0" y1="1180" x2="0" y2="1330"><stop offset="0" stop-color="#dcdde0"/><stop offset="1" stop-color="#f4f4f5"/></linearGradient><linearGradient id="dG" gradientUnits="userSpaceOnUse" x1="856" y1="0" x2="952" y2="0"><stop offset="0" stop-color="#f1f1f2"/><stop offset="1" stop-color="#e2e3e5"/></linearGradient><linearGradient id="swT" gradientUnits="userSpaceOnUse" x1="590" y1="1200" x2="690" y2="1200"><stop offset="0" stop-color="#6ccdf5"/><stop offset="1" stop-color="#55c0f0"/></linearGradient><clipPath id="wcl"><ellipse cx="560" cy="1126.3" rx="54.8" ry="79.7" transform="rotate(4 560 1126.3)"/></clipPath></defs>
<path d="M338.4 1218.5C339.1 1217.2 335.9 1213.9 342.4 1211.0C348.9 1208.1 364.4 1203.7 377.3 1201.0C390.2 1198.3 389.6 1203.5 420.0 1195.0C450.4 1186.5 513.3 1166.9 560.0 1150.0C606.7 1133.1 669.4 1104.8 700.0 1093.4C730.6 1082.0 722.8 1085.6 743.4 1081.7C764.0 1077.8 805.1 1072.8 823.4 1070.0C841.7 1067.2 831.9 1066.4 853.4 1065.0C874.9 1063.6 932.0 1061.9 952.4 1061.7C972.8 1061.5 966.9 1062.1 975.6 1063.6C984.3 1065.0 995.0 1067.3 1004.7 1070.4C1014.4 1073.5 1024.1 1077.5 1033.8 1082.0C1043.5 1086.5 1054.4 1092.3 1062.8 1097.5C1071.2 1102.7 1078.6 1108.2 1084.1 1113.0C1089.6 1117.8 1093.2 1122.4 1095.8 1126.6C1098.4 1130.8 1099.6 1134.0 1099.6 1138.2C1099.6 1142.4 1098.7 1147.3 1095.8 1151.8C1092.9 1156.3 1089.3 1160.1 1082.2 1165.3C1075.1 1170.5 1064.4 1177.0 1053.1 1182.8C1041.8 1188.6 1027.3 1195.0 1014.4 1200.2C1001.5 1205.4 988.5 1209.6 975.6 1213.8C962.7 1218.0 949.8 1221.9 936.9 1225.4C924.0 1229.0 911.1 1232.2 898.1 1235.1C885.1 1238.0 873.9 1239.5 859.0 1243.0C844.1 1246.5 825.7 1250.7 809.0 1256.0C792.3 1261.3 777.2 1267.7 759.0 1275.0C740.8 1282.3 716.5 1292.2 700.0 1299.6C683.5 1307.0 673.0 1314.3 660.0 1319.5C647.0 1324.7 638.7 1329.5 622.0 1330.7C605.3 1332.0 573.0 1328.5 560.0 1327.0C547.0 1325.5 554.9 1324.5 544.0 1322.0C533.1 1319.5 503.5 1314.9 494.4 1312.0C485.3 1309.1 490.2 1305.8 489.4 1304.5L494.4 1294.5C491.9 1293.7 486.9 1292.0 479.4 1289.5C471.9 1287.0 457.8 1282.8 449.5 1279.5C441.2 1276.2 433.5 1271.9 429.6 1269.6C425.7 1267.3 426.5 1266.4 425.9 1265.8L424.6 1279.0C420.5 1278.9 408.8 1280.2 400.0 1278.5C391.2 1276.8 380.0 1273.8 371.7 1268.5C363.4 1263.2 355.3 1253.5 350.0 1246.8C344.7 1240.0 341.9 1232.7 340.0 1228.0C338.1 1223.3 338.7 1220.1 338.4 1218.5Z" fill="#e3e4e6"/>
<path d="M956.3 1070.4C962.7 1067.2 982.1 1074.6 995.0 1078.1C1007.9 1081.7 1022.5 1086.9 1033.8 1091.7C1045.1 1096.5 1055.1 1102.0 1062.8 1107.2C1070.6 1112.4 1076.6 1117.9 1080.3 1122.7C1084.0 1127.5 1086.4 1131.4 1085.1 1136.3C1083.8 1141.1 1079.5 1146.6 1072.5 1151.8C1065.6 1156.9 1054.8 1161.8 1043.5 1167.3C1032.2 1172.8 1017.6 1179.5 1004.7 1184.7C991.8 1189.9 978.9 1194.1 966.0 1198.3C953.0 1202.5 938.5 1206.7 927.2 1209.9C915.9 1213.1 903.0 1229.9 898.1 1217.6C893.3 1205.4 888.4 1156.3 898.1 1136.3C907.8 1116.2 946.6 1108.5 956.3 1097.5C966.0 1086.5 949.8 1073.6 956.3 1070.4Z" fill="#cfd0d3"/>
<path d="M1099.0 1138.0C1098.5 1140.3 1098.6 1147.2 1095.8 1151.8C1093.0 1156.3 1089.3 1160.1 1082.2 1165.3C1075.1 1170.5 1064.4 1177.0 1053.1 1182.8C1041.8 1188.6 1027.3 1195.0 1014.4 1200.2C1001.5 1205.4 988.5 1209.6 975.6 1213.8C962.7 1218.0 949.8 1221.9 936.9 1225.4C924.0 1229.0 911.1 1232.2 898.1 1235.1C885.1 1238.0 873.9 1239.5 859.0 1243.0C844.1 1246.5 825.7 1250.7 809.0 1256.0C792.3 1261.3 777.2 1267.7 759.0 1275.0C740.8 1282.3 716.5 1292.2 700.0 1299.6C683.5 1307.0 673.0 1314.3 660.0 1319.5C647.0 1324.7 638.7 1329.5 622.0 1330.7C605.3 1332.0 570.3 1327.6 560.0 1327.0" fill="none" stroke="#f6f6f7" stroke-width="9" stroke-linecap="round" transform="translate(-1.5,-4)"/>
<path d="M952.4 1063.5C956.3 1063.8 966.9 1064.0 975.6 1065.4C984.3 1066.9 995.0 1069.1 1004.7 1072.2C1014.4 1075.3 1024.1 1079.5 1033.8 1084.0C1043.5 1088.5 1054.4 1094.3 1062.8 1099.5C1071.2 1104.7 1078.8 1110.3 1084.1 1115.0C1089.4 1119.7 1092.3 1123.6 1094.5 1127.5C1096.7 1131.4 1097.0 1136.4 1097.5 1138.2" fill="none" stroke="#f7f7f8" stroke-width="4"/>
<ellipse cx="987.3" cy="1121.7" rx="5.0" ry="2.2" fill="#a4a5a8" />
<ellipse cx="1008.6" cy="1120.4" rx="5.0" ry="2.2" fill="#a4a5a8" />
<ellipse cx="1028.9" cy="1125.6" rx="5.0" ry="2.2" fill="#a4a5a8" />
<ellipse cx="1048.3" cy="1130.8" rx="5.0" ry="2.2" fill="#a4a5a8" />
<ellipse cx="1003.7" cy="1127.0" rx="5.0" ry="2.2" fill="#a4a5a8" />
<ellipse cx="1023.1" cy="1132.4" rx="5.0" ry="2.2" fill="#a4a5a8" />
<ellipse cx="1059.0" cy="1142.5" rx="5.0" ry="2.2" fill="#a4a5a8" />
<ellipse cx="993.1" cy="1185.1" rx="5.0" ry="2.2" fill="#a4a5a8" />
<ellipse cx="1017.3" cy="1182.4" rx="5.0" ry="2.2" fill="#a4a5a8" />
<ellipse cx="1053.1" cy="1164.4" rx="5.0" ry="2.2" fill="#a4a5a8" />
<polygon points="1008.6,1144.0 1049.3,1144.0 1049.3,1173.1 1008.6,1175.0" fill="#f1f1f2"/>
<ellipse cx="1028.9" cy="1144.0" rx="20.5" ry="8.7" fill="#fafafa" />
<ellipse cx="1028.9" cy="1143.5" rx="12.0" ry="5.0" fill="#d5d6d9" />
<ellipse cx="1028.9" cy="1174.0" rx="20.5" ry="5.0" fill="#f1f1f2" />
<polygon points="978.5,1078.1 987.3,1070.4 1002.8,1074.3 1001.8,1085.9 1000.8,1113.0 982.4,1111.1" fill="#dfe0e2"/>
<polygon points="978.5,1078.1 987.3,1070.4 1002.8,1074.3 995.0,1083.0" fill="#f4f4f5"/>
<polygon points="933.0,1182.8 954.3,1177.0 962.1,1184.7 958.2,1209.9 936.9,1213.8" fill="#eeeff0"/>
<polygon points="933.0,1182.8 954.3,1177.0 962.1,1184.7 940.8,1191.5" fill="#fbfbfb"/>
<polygon points="881.7,1194.4 907.8,1201.2 907.8,1215.7 881.7,1213.8" fill="#f1f1f2"/>
<polygon points="1050.2,1149.8 1086.1,1138.2 1072.5,1153.7 1050.2,1159.5" fill="#e9eaec"/>
<path d="M336.2 1218.5C337.2 1217.3 335.6 1213.9 342.4 1211.0C349.3 1208.1 365.3 1202.9 377.3 1201.1C389.3 1199.2 408.4 1200.0 414.7 1199.8L424.6 1254.6L425.9 1265.8L424.6 1279.0C421.1 1279.2 410.9 1281.8 403.5 1280.0C396.0 1278.3 387.1 1272.6 379.8 1268.3C372.5 1264.1 365.7 1259.8 359.9 1254.6C354.0 1249.4 348.9 1243.2 344.9 1237.2C341.0 1231.2 337.6 1221.6 336.2 1218.5Z" fill="#e4e5e7"/>
<polygon points="347.4,1222.2 377.3,1208.5 419.7,1209.8 422.1,1257.1 394.7,1259.6 362.4,1234.7" fill="#cfd0d3"/>
<path d="M337.4 1218.5C338.9 1221.4 342.2 1230.3 346.2 1235.9C350.1 1241.6 355.3 1247.7 361.1 1252.6C366.9 1257.6 374.0 1261.8 381.0 1265.8C388.1 1269.9 396.3 1275.4 403.5 1277.1C410.6 1278.8 420.7 1276.2 424.1 1276.1" fill="none" stroke="#f7f7f8" stroke-width="4"/>
<polygon points="374.8,1213.5 414.7,1213.5 414.7,1249.7 374.8,1249.7" fill="#f0f0f1"/>
<ellipse cx="394.7" cy="1213.5" rx="20.0" ry="6.5" fill="#fbfbfb" />
<ellipse cx="394.7" cy="1213.8" rx="12.0" ry="3.8" fill="#dcdde0" />
<ellipse cx="394.7" cy="1249.7" rx="20.0" ry="5.0" fill="#f0f0f1" />
<path d="M423.4 1254.6C424.4 1257.1 425.3 1265.4 429.6 1269.6C434.0 1273.7 441.2 1276.2 449.5 1279.5C457.9 1282.9 472.0 1287.0 479.4 1289.5C486.9 1292.0 489.4 1293.9 494.4 1294.5C499.4 1295.1 504.8 1294.1 509.3 1293.2C513.9 1292.4 519.7 1290.1 521.8 1289.5L519.3 1267.1L499.4 1257.1L469.5 1232.2L424.6 1232.2L423.4 1254.6Z" fill="#eeeff0"/>
<rect x="439.1" y="1242.7" width="46" height="21" rx="7" fill="#1e1f22" stroke="#c9cacc" stroke-width="2" transform="rotate(14 439.1 1242.7)"/>
<polygon points="499.4,1297.0 521.8,1289.5 569.1,1299.5 601.5,1309.4 680.0,1299.5 680.0,1309.4 619.0,1321.9 544.2,1319.4 494.4,1309.4" fill="#d6d7da"/>
<polygon points="555.4,1272.1 599.0,1272.1 599.0,1304.5 555.4,1304.5" fill="#f2f2f3"/>
<ellipse cx="577.1" cy="1272.1" rx="21.8" ry="7.0" fill="#fbfbfb" />
<ellipse cx="577.1" cy="1272.6" rx="13.0" ry="4.0" fill="#dcdde0" />
<ellipse cx="577.1" cy="1304.5" rx="21.8" ry="6.0" fill="#f2f2f3" />
<polygon points="719.4,1251.0 736.9,1242.3 744.4,1252.2 740.6,1274.7 724.4,1279.7" fill="#f1f1f2"/>
<polygon points="766.8,1233.6 784.2,1231.1 791.7,1239.8 791.7,1252.2 766.8,1254.7" fill="#ececee"/>
<polygon points="881.4,1191.2 906.3,1194.9 908.8,1209.9 881.4,1207.4" fill="#f1f1f2"/>
<polygon points="614.8,1279.7 669.6,1262.2 672.1,1279.7 714.5,1267.2 719.4,1279.7 614.8,1299.6" fill="#e9eaec"/>
<polygon points="794.2,1224.8 824.1,1209.9 824.1,1224.8 794.2,1239.8" fill="#dfe0e2"/>
<polygon points="672.1,1262.2 714.5,1254.7 714.5,1267.2 672.1,1275.9" fill="#6c6d70"/>
<polygon points="824.1,1212.4 878.9,1194.9 878.9,1209.9 824.1,1227.3" fill="#c9cacc"/>
<polygon points="401.7,1151.8 446.8,1141.8 446.8,1193.5 403.4,1198.5" fill="#1a1b1d"/>
<polygon points="401.7,1151.8 430.1,1136.8 473.4,1133.4 446.8,1141.8" fill="#262729"/>
<polygon points="446.8,1141.8 473.4,1133.4 473.4,1190.2 446.8,1193.5" fill="#111214"/>
<polygon points="377.0,1194.0 405.0,1180.0 440.0,1172.0 627.0,1117.0 660.0,1106.0 707.0,1092.4 745.0,1085.0 819.3,1094.9 869.0,1117.3 948.9,1158.4 869.0,1188.0 819.3,1207.0 769.5,1224.4 719.6,1241.9 669.8,1256.8 620.0,1269.0 616.5,1272.1 609.8,1276.0 590.3,1264.6 579.1,1258.4 569.1,1257.1 539.2,1265.8 519.3,1263.4 499.4,1250.9 469.5,1237.2 415.9,1226.0 415.9,1214.8" fill="#141517"/>
<polygon points="763.9,1064.0 803.0,1043.3 803.0,1093.1 763.9,1107.2" fill="#b7b8bb"/>
<polygon points="742.3,1059.9 763.9,1064.0 763.9,1107.2 742.3,1101.7" fill="#d6d7d9"/>
<polygon points="803.0,1043.3 820.4,1046.6 820.4,1095.6 803.0,1093.1" fill="#c6c7ca"/>
<polygon points="742.3,1059.9 801.3,1040.8 820.4,1046.2 803.0,1043.6 763.9,1064.4" fill="#ececee"/>
<path d="M377.0 1197.0C383.5 1200.3 409.4 1211.8 415.9 1217.0C422.4 1222.2 407.0 1224.2 415.9 1228.0C424.8 1231.8 455.6 1235.3 469.5 1239.5C483.4 1243.7 491.1 1248.7 499.4 1253.0C507.7 1257.3 512.7 1263.0 519.3 1265.5C525.9 1268.0 530.9 1269.0 539.2 1268.0C547.5 1267.0 562.5 1260.5 569.1 1259.3C575.8 1258.1 575.6 1259.3 579.1 1260.6C582.6 1261.8 585.2 1263.8 590.3 1266.8C595.4 1269.8 604.8 1277.5 609.8 1278.3C614.8 1279.1 610.0 1274.7 620.0 1271.5C630.0 1268.3 653.2 1263.8 669.8 1259.3C686.4 1254.8 703.0 1249.8 719.6 1244.4C736.2 1239.0 752.9 1232.8 769.5 1227.0C786.1 1221.2 802.7 1215.6 819.3 1209.5C835.9 1203.4 847.4 1198.6 869.0 1190.5C890.6 1182.4 935.6 1165.9 948.9 1161.0" fill="none" stroke="#2b2c30" stroke-width="3"/>
<polygon points="587.4,1254.7 689.5,1239.8 694.5,1247.3 609.8,1275.9" fill="#173a57"/>
<g fill="#f1f1f1"><circle cx="709.7" cy="1195.8" r="1.2"/><circle cx="712.7" cy="1199.0" r="1.2"/><circle cx="715.7" cy="1202.2" r="1.2"/><circle cx="715.9" cy="1193.9" r="1.2"/><circle cx="718.9" cy="1197.1" r="1.2"/><circle cx="721.9" cy="1200.3" r="1.2"/><circle cx="722.1" cy="1192.0" r="1.2"/><circle cx="725.1" cy="1195.2" r="1.2"/><circle cx="728.1" cy="1198.4" r="1.2"/><circle cx="728.3" cy="1190.1" r="1.2"/><circle cx="731.3" cy="1193.3" r="1.2"/><circle cx="734.3" cy="1196.5" r="1.2"/><circle cx="734.5" cy="1188.2" r="1.2"/><circle cx="737.5" cy="1191.4" r="1.2"/><circle cx="740.5" cy="1194.6" r="1.2"/><circle cx="740.7" cy="1186.3" r="1.2"/><circle cx="743.7" cy="1189.5" r="1.2"/><circle cx="746.7" cy="1192.7" r="1.2"/><circle cx="746.9" cy="1184.4" r="1.2"/><circle cx="749.9" cy="1187.6" r="1.2"/><circle cx="752.9" cy="1190.8" r="1.2"/><circle cx="753.1" cy="1182.5" r="1.2"/><circle cx="756.1" cy="1185.7" r="1.2"/><circle cx="759.1" cy="1188.9" r="1.2"/><circle cx="759.3" cy="1180.6" r="1.2"/><circle cx="762.3" cy="1183.8" r="1.2"/><circle cx="765.3" cy="1187.0" r="1.2"/><circle cx="755.8" cy="1200.8" r="1.5"/><circle cx="759.4" cy="1204.4" r="1.5"/><circle cx="763.0" cy="1208.0" r="1.5"/><circle cx="766.6" cy="1211.6" r="1.5"/><circle cx="762.3" cy="1198.8" r="1.5"/><circle cx="765.9" cy="1202.4" r="1.5"/><circle cx="769.5" cy="1206.0" r="1.5"/><circle cx="773.1" cy="1209.6" r="1.5"/><circle cx="768.8" cy="1196.8" r="1.5"/><circle cx="772.4" cy="1200.4" r="1.5"/><circle cx="776.0" cy="1204.0" r="1.5"/><circle cx="779.6" cy="1207.6" r="1.5"/><circle cx="775.3" cy="1194.8" r="1.5"/><circle cx="778.9" cy="1198.4" r="1.5"/><circle cx="782.5" cy="1202.0" r="1.5"/><circle cx="786.1" cy="1205.6" r="1.5"/><circle cx="781.8" cy="1192.8" r="1.5"/><circle cx="785.4" cy="1196.4" r="1.5"/><circle cx="789.0" cy="1200.0" r="1.5"/><circle cx="792.6" cy="1203.6" r="1.5"/><circle cx="851.7" cy="1169.6" r="1.4"/><circle cx="855.3" cy="1173.2" r="1.4"/><circle cx="858.9" cy="1176.8" r="1.4"/><circle cx="858.2" cy="1167.6" r="1.4"/><circle cx="861.8" cy="1171.2" r="1.4"/><circle cx="865.4" cy="1174.8" r="1.4"/><circle cx="864.7" cy="1165.6" r="1.4"/><circle cx="868.3" cy="1169.2" r="1.4"/><circle cx="871.9" cy="1172.8" r="1.4"/><circle cx="871.2" cy="1163.6" r="1.4"/><circle cx="874.8" cy="1167.2" r="1.4"/><circle cx="878.4" cy="1170.8" r="1.4"/><circle cx="634.9" cy="1134.7" r="1.0"/><circle cx="637.5" cy="1137.5" r="1.0"/><circle cx="640.1" cy="1140.3" r="1.0"/><circle cx="639.9" cy="1133.2" r="1.0"/><circle cx="642.5" cy="1136.0" r="1.0"/><circle cx="645.1" cy="1138.8" r="1.0"/><circle cx="644.9" cy="1131.7" r="1.0"/><circle cx="647.5" cy="1134.5" r="1.0"/><circle cx="650.1" cy="1137.3" r="1.0"/><circle cx="649.9" cy="1130.2" r="1.0"/><circle cx="652.5" cy="1133.0" r="1.0"/><circle cx="655.1" cy="1135.8" r="1.0"/><circle cx="654.9" cy="1128.7" r="1.0"/><circle cx="657.5" cy="1131.5" r="1.0"/><circle cx="660.1" cy="1134.3" r="1.0"/><circle cx="659.9" cy="1127.2" r="1.0"/><circle cx="662.5" cy="1130.0" r="1.0"/><circle cx="665.1" cy="1132.8" r="1.0"/><circle cx="677.3" cy="1122.3" r="1.0"/><circle cx="679.9" cy="1125.1" r="1.0"/><circle cx="682.3" cy="1120.8" r="1.0"/><circle cx="684.9" cy="1123.6" r="1.0"/><circle cx="687.3" cy="1119.3" r="1.0"/><circle cx="689.9" cy="1122.1" r="1.0"/><circle cx="692.3" cy="1117.8" r="1.0"/><circle cx="694.9" cy="1120.6" r="1.0"/><circle cx="697.3" cy="1116.3" r="1.0"/><circle cx="699.9" cy="1119.1" r="1.0"/><circle cx="702.3" cy="1114.8" r="1.0"/><circle cx="704.9" cy="1117.6" r="1.0"/><circle cx="707.3" cy="1113.3" r="1.0"/><circle cx="709.9" cy="1116.1" r="1.0"/><circle cx="662.4" cy="1107.3" r="1.0"/><circle cx="665.0" cy="1110.1" r="1.0"/><circle cx="667.4" cy="1105.8" r="1.0"/><circle cx="670.0" cy="1108.6" r="1.0"/><circle cx="672.4" cy="1104.3" r="1.0"/><circle cx="675.0" cy="1107.1" r="1.0"/><circle cx="677.4" cy="1102.8" r="1.0"/><circle cx="680.0" cy="1105.6" r="1.0"/><circle cx="682.4" cy="1101.3" r="1.0"/><circle cx="685.0" cy="1104.1" r="1.0"/><circle cx="704.7" cy="1219.4" r="1.5"/><circle cx="707.7" cy="1222.6" r="1.5"/><circle cx="710.7" cy="1225.8" r="1.5"/><circle cx="710.7" cy="1217.6" r="1.5"/><circle cx="713.7" cy="1220.8" r="1.5"/><circle cx="716.7" cy="1224.0" r="1.5"/><circle cx="716.7" cy="1215.8" r="1.5"/><circle cx="719.7" cy="1219.0" r="1.5"/><circle cx="722.7" cy="1222.2" r="1.5"/><circle cx="722.7" cy="1214.0" r="1.5"/><circle cx="725.7" cy="1217.2" r="1.5"/><circle cx="728.7" cy="1220.4" r="1.5"/><ellipse cx="831.8" cy="1179.1" rx="7" ry="4"/><ellipse cx="805.6" cy="1188.3" rx="7" ry="4"/><ellipse cx="743.3" cy="1208.7" rx="6" ry="3.4"/><ellipse cx="889.1" cy="1159.7" rx="6.5" ry="3.6"/><ellipse cx="856.7" cy="1141.0" rx="4" ry="2.4"/><ellipse cx="928.9" cy="1155.9" rx="5" ry="3"/><ellipse cx="911.5" cy="1150.9" rx="4" ry="2.4"/><ellipse cx="702.2" cy="1097.4" rx="4" ry="2.4"/><ellipse cx="869.1" cy="1132.2" rx="3" ry="1.8"/><ellipse cx="724.6" cy="1219.4" rx="5" ry="3"/><ellipse cx="779.4" cy="1231.9" rx="3" ry="2"/><ellipse cx="694.7" cy="1231.9" rx="3" ry="2"/></g>
<g fill="none" stroke="#e9e9e9" stroke-width="1.2"><polyline points="774.5,1189.5 819.3,1175.8 844.2,1187.1 799.4,1202.0 774.5,1189.5"/><polyline points="819.3,1175.8 844.2,1167.1 869.1,1177.1 844.2,1187.1"/><polyline points="727.1,1209.5 759.5,1199.5 779.4,1209.5 744.6,1220.7 727.1,1209.5"/><polyline points="702.2,1189.5 769.5,1169.6 794.4,1179.6"/><polyline points="702.2,1189.5 724.6,1202.0 794.4,1179.6"/><polyline points="844.2,1167.1 889.1,1152.2 914.0,1163.4 869.1,1177.1"/><polyline points="889.1,1152.2 931.4,1139.7"/><polyline points="794.4,1212.0 824.3,1202.0 844.2,1209.5"/><polyline points="689.8,1224.4 719.7,1215.7 737.1,1224.4"/><polyline points="824.3,1117.3 869.1,1109.8 879.1,1119.8"/><polyline points="630.0,1122.3 659.9,1113.6 694.7,1104.8"/><polyline points="634.9,1142.2 669.8,1132.2 702.2,1134.7"/></g>
<g stroke="#dddddd" stroke-width="1.3"><line x1="725.9" y1="1173.3" x2="729.4" y2="1172.2"/><line x1="811.9" y1="1162.5" x2="814.1" y2="1161.8"/><line x1="700.5" y1="1220.8" x2="703.6" y2="1219.8"/><line x1="764.2" y1="1223.9" x2="768.1" y2="1222.7"/><line x1="844.6" y1="1138.1" x2="849.2" y2="1136.8"/><line x1="714.9" y1="1188.1" x2="720.4" y2="1186.5"/><line x1="806.1" y1="1178.0" x2="810.8" y2="1176.5"/><line x1="705.8" y1="1207.8" x2="710.2" y2="1206.5"/><line x1="850.2" y1="1136.5" x2="855.1" y2="1135.0"/><line x1="881.6" y1="1154.3" x2="887.3" y2="1152.6"/><line x1="783.4" y1="1191.9" x2="787.2" y2="1190.7"/><line x1="914.1" y1="1163.1" x2="916.5" y2="1162.3"/><line x1="866.5" y1="1129.3" x2="871.0" y2="1128.0"/><line x1="736.0" y1="1166.1" x2="739.5" y2="1165.1"/><line x1="753.6" y1="1171.9" x2="757.9" y2="1170.6"/><line x1="883.3" y1="1150.4" x2="889.1" y2="1148.7"/><line x1="909.2" y1="1177.2" x2="913.9" y2="1175.8"/><line x1="736.3" y1="1213.6" x2="742.2" y2="1211.8"/><line x1="869.9" y1="1141.9" x2="874.8" y2="1140.5"/><line x1="744.8" y1="1207.1" x2="749.1" y2="1205.8"/><line x1="908.5" y1="1177.2" x2="910.8" y2="1176.5"/><line x1="829.6" y1="1134.5" x2="832.2" y2="1133.7"/><line x1="757.8" y1="1194.8" x2="763.3" y2="1193.2"/><line x1="776.3" y1="1204.5" x2="782.2" y2="1202.7"/><line x1="827.9" y1="1203.9" x2="831.1" y2="1203.0"/><line x1="768.2" y1="1171.6" x2="770.8" y2="1170.8"/><line x1="709.5" y1="1222.5" x2="712.7" y2="1221.6"/><line x1="921.5" y1="1162.8" x2="925.0" y2="1161.7"/><line x1="770.6" y1="1159.8" x2="775.2" y2="1158.4"/><line x1="803.2" y1="1156.8" x2="807.6" y2="1155.5"/><line x1="870.0" y1="1135.6" x2="873.7" y2="1134.5"/><line x1="794.0" y1="1123.2" x2="797.2" y2="1122.2"/><line x1="879.5" y1="1134.8" x2="883.7" y2="1133.5"/><line x1="743.9" y1="1107.6" x2="748.4" y2="1106.3"/><line x1="757.9" y1="1110.1" x2="762.4" y2="1108.7"/><line x1="787.5" y1="1175.3" x2="790.9" y2="1174.2"/><line x1="846.4" y1="1166.5" x2="848.5" y2="1165.9"/><line x1="843.4" y1="1116.1" x2="847.2" y2="1115.0"/><line x1="777.6" y1="1135.0" x2="781.0" y2="1133.9"/><line x1="725.9" y1="1150.7" x2="730.3" y2="1149.4"/><line x1="724.2" y1="1152.1" x2="729.3" y2="1150.6"/><line x1="805.0" y1="1128.8" x2="807.9" y2="1127.9"/><line x1="810.5" y1="1120.5" x2="813.3" y2="1119.7"/><line x1="782.5" y1="1178.9" x2="784.9" y2="1178.2"/><line x1="724.6" y1="1146.6" x2="729.9" y2="1145.0"/><line x1="798.4" y1="1194.6" x2="801.1" y2="1193.8"/><line x1="756.5" y1="1179.6" x2="762.1" y2="1177.9"/><line x1="740.0" y1="1130.8" x2="742.5" y2="1130.0"/><line x1="751.9" y1="1125.0" x2="757.1" y2="1123.4"/><line x1="810.9" y1="1115.0" x2="814.0" y2="1114.1"/><line x1="857.6" y1="1152.8" x2="862.8" y2="1151.2"/><line x1="710.5" y1="1124.1" x2="713.7" y2="1123.2"/><line x1="812.3" y1="1123.5" x2="815.7" y2="1122.4"/><line x1="751.9" y1="1151.7" x2="755.5" y2="1150.6"/><line x1="823.5" y1="1110.5" x2="825.5" y2="1109.9"/><line x1="916.0" y1="1162.6" x2="921.9" y2="1160.8"/><line x1="806.6" y1="1204.4" x2="812.3" y2="1202.7"/><line x1="739.9" y1="1196.7" x2="745.2" y2="1195.1"/><line x1="813.1" y1="1149.9" x2="816.3" y2="1148.9"/><line x1="718.7" y1="1134.6" x2="721.0" y2="1133.9"/></g>
<g fill="#e8e8e8"><circle cx="527.0" cy="1247.0" r="1.2"/><circle cx="524.8" cy="1249.0" r="1.2"/><circle cx="522.6" cy="1251.0" r="1.2"/><circle cx="530.6" cy="1247.9" r="1.2"/><circle cx="528.4" cy="1249.9" r="1.2"/><circle cx="526.2" cy="1251.9" r="1.2"/><circle cx="534.2" cy="1248.8" r="1.2"/><circle cx="532.0" cy="1250.8" r="1.2"/><circle cx="529.8" cy="1252.8" r="1.2"/><circle cx="537.8" cy="1249.7" r="1.2"/><circle cx="535.6" cy="1251.7" r="1.2"/><circle cx="533.4" cy="1253.7" r="1.2"/><ellipse cx="519" cy="1251" rx="4" ry="2"/><ellipse cx="545" cy="1246" rx="3" ry="2"/><circle cx="480.0" cy="1236.0" r="1.0"/><circle cx="478.0" cy="1238.0" r="1.0"/><circle cx="483.4" cy="1236.8" r="1.0"/><circle cx="481.4" cy="1238.8" r="1.0"/><circle cx="486.8" cy="1237.6" r="1.0"/><circle cx="484.8" cy="1239.6" r="1.0"/></g>
<polygon points="469.5,1235.9 481.9,1233.5 499.4,1237.2 504.4,1249.7 494.4,1259.6 479.4,1257.1 469.5,1249.7" fill="#b9babd"/>
<polygon points="473.2,1239.7 481.9,1237.2 481.9,1254.6 473.2,1252.1" fill="#2a2b2e"/>
<polygon points="486.9,1238.4 494.4,1240.2 494.4,1257.1 486.9,1255.9" fill="#2a2b2e"/>
<polygon points="722.1,1134.7 737.1,1108.6 767.0,1113.6 755.8,1142.2" fill="#a98b8f"/>
<polygon points="725.9,1132.2 738.3,1112.3 763.2,1116.3 753.3,1138.5" fill="#b9a0a3"/>
<polygon points="755.8,1142.2 767.0,1113.6 775.7,1150.9 760.8,1157.2" fill="#cf2a2c"/>
<polygon points="759.5,1134.7 767.0,1122.3 770.7,1142.2 763.2,1147.2" fill="#3a1214"/>
<polygon points="754.5,1155.9 775.7,1150.9 779.4,1158.4 759.5,1163.4" fill="#a8474b"/>
<path d="M769.5 1107.3C772.4 1102.1 785.3 1096.1 791.9 1093.6C798.5 1091.1 804.8 1090.5 809.3 1092.4C813.9 1094.3 817.6 1099.9 819.3 1104.8C821.0 1109.8 821.0 1117.7 819.3 1122.3C817.6 1126.8 815.2 1130.2 809.3 1132.2C803.5 1134.3 790.2 1136.0 784.4 1134.7C778.6 1133.5 777.0 1129.3 774.5 1124.8C772.0 1120.2 766.6 1112.5 769.5 1107.3Z" fill="#cfd0d4"/>
<polygon points="773.2,1109.8 791.9,1098.6 799.4,1132.2 781.9,1133.5 775.0,1124.3" fill="#3f4044"/>
<polygon points="779.4,1106.1 784.4,1103.1 791.9,1132.7 786.4,1133.7" fill="#eeeeef"/>
<polygon points="791.9,1099.4 796.4,1097.4 803.9,1131.3 799.4,1132.2" fill="#f2f2f3"/>
<ellipse cx="810.6" cy="1111.8" rx="9.5" ry="19.0" fill="#e9eaec" transform="rotate(-15 810.6 1111.8)" />
<ellipse cx="811.3" cy="1111.8" rx="6.0" ry="14.0" fill="#9c9da1" transform="rotate(-15 811.3 1111.8)" />
<ellipse cx="811.8" cy="1111.3" rx="3.5" ry="9.0" fill="#f4f4f5" transform="rotate(-15 811.8 1111.3)" />
<polygon points="779.4,1139.7 829.3,1127.3 839.2,1142.2 791.9,1157.2" fill="#7a7b7f" opacity="0.5"/>
<polygon points="642.4,1147.2 737.1,1142.2 744.6,1159.7 649.9,1164.6" fill="#1b1c1f" stroke="#3a3b3e" stroke-width="0.8"/>
<polygon points="682.3,1172.6 684.5,1172.4 684.5,1181.1 682.3,1181.6" fill="#e4e4e4"/>
<polygon points="687.5,1172.3 689.8,1172.1 689.8,1180.8 687.5,1181.3" fill="#8a8b8e"/>
<polygon points="692.7,1172.0 695.0,1171.8 695.0,1180.5 692.7,1181.0" fill="#e4e4e4"/>
<polygon points="698.0,1171.7 700.2,1171.5 700.2,1180.2 698.0,1180.7" fill="#8a8b8e"/>
<polygon points="703.2,1171.4 705.5,1171.2 705.5,1179.9 703.2,1180.4" fill="#e4e4e4"/>
<polygon points="708.4,1171.1 710.7,1170.9 710.7,1179.6 708.4,1180.1" fill="#8a8b8e"/>
<polygon points="713.7,1170.8 715.9,1170.6 715.9,1179.3 713.7,1179.8" fill="#e4e4e4"/>
<polygon points="718.9,1170.5 721.1,1170.3 721.1,1179.0 718.9,1179.5" fill="#8a8b8e"/>
<polygon points="724.1,1170.2 726.4,1170.0 726.4,1178.7 724.1,1179.2" fill="#e4e4e4"/>
<polygon points="729.4,1169.9 731.6,1169.7 731.6,1178.4 729.4,1178.9" fill="#8a8b8e"/>
<polygon points="734.6,1169.6 736.8,1169.4 736.8,1178.1 734.6,1178.6" fill="#e4e4e4"/>
<polygon points="739.8,1169.3 742.1,1169.1 742.1,1177.8 739.8,1178.3" fill="#8a8b8e"/>
<polygon points="745.1,1169.0 747.3,1168.8 747.3,1177.5 745.1,1178.0" fill="#e4e4e4"/>
<polygon points="704.7,1127.3 710.2,1126.3 710.2,1134.2 704.7,1135.2" fill="#b8322e"/>
<polygon points="671.1,1160.9 677.3,1159.9 677.3,1167.9 671.1,1168.9" fill="#b8322e"/>
<polygon points="843.9,1077.2 895.2,1100.4 895.2,1144.0 843.9,1113.0" fill="#e1e2e4"/>
<polygon points="895.2,1100.4 917.5,1103.3 973.7,1091.7 973.7,1163.4 895.2,1144.0" fill="#f2f2f3"/>
<polygon points="843.9,1074.3 857.4,1071.3 917.5,1086.9 952.4,1082.0 973.7,1087.8 973.7,1092.1 917.5,1103.7 895.2,1100.8 843.9,1077.6" fill="#fafafa"/>
<polygon points="857.4,1074.3 917.5,1089.8 951.4,1084.3 951.4,1086.9 917.5,1100.4 895.2,1097.5 857.4,1078.1" fill="#cfd0d3"/>
<polygon points="973.7,1108.2 979.5,1111.1 979.5,1159.5 973.7,1163.4" fill="#dcdde0"/>
<polygon points="973.7,1128.5 983.4,1134.3 1000.8,1144.0 1000.8,1155.6 973.7,1163.4" fill="#e6e7e9"/>
<path d="M856.5 1094.0 L856.5 1000.0 Q856.5 990.5 866.0 990.0 L940.0 994.0 Q951.5 994.5 951.5 1006.0 L951.5 1086.0 L919.0 1093.0 L856.5 1076.0 Z" fill="url(#dG)"/>
<polygon points="856.5,1076.0 919.0,1093.0 919.0,1100.0 856.5,1082.0" fill="#d5d6d9"/>
<polygon points="919.0,1093.0 951.5,1086.0 951.5,1091.0 919.0,1100.0" fill="#c9cacd"/>
<polygon points="896.8,991.7 926.8,993.4 930.2,996.0 900.1,994.4" fill="#c5c6c9"/>
<ellipse cx="538.0" cy="1124.6" rx="83.0" ry="99.7" fill="#d9dadc" transform="rotate(4 538.0 1124.6)" />
<ellipse cx="538.8" cy="1124.8" rx="82.0" ry="98.7" fill="#242528" transform="rotate(4 538.8 1124.8)" />
<g stroke="#4b4c50" stroke-width="1.6" transform="rotate(4 538 1124.6)"><line x1="566.0" y1="1217.2" x2="581.6" y2="1213.7"/><line x1="560.6" y1="1219.3" x2="577.0" y2="1215.7"/><line x1="555.0" y1="1220.9" x2="572.4" y2="1217.3"/><line x1="549.4" y1="1222.1" x2="567.8" y2="1218.4"/><line x1="543.7" y1="1222.9" x2="563.0" y2="1219.1"/><line x1="538.0" y1="1223.1" x2="558.3" y2="1219.3"/><line x1="532.3" y1="1222.9" x2="553.6" y2="1219.1"/><line x1="526.6" y1="1222.1" x2="548.8" y2="1218.4"/><line x1="521.0" y1="1220.9" x2="544.2" y2="1217.3"/><line x1="515.4" y1="1219.3" x2="539.6" y2="1215.7"/><line x1="510.0" y1="1217.2" x2="535.0" y2="1213.7"/><line x1="504.6" y1="1214.6" x2="530.6" y2="1211.3"/><line x1="499.5" y1="1211.6" x2="526.4" y2="1208.4"/><line x1="494.5" y1="1208.1" x2="522.3" y2="1205.2"/><line x1="489.8" y1="1204.3" x2="518.3" y2="1201.5"/><line x1="485.3" y1="1200.1" x2="514.6" y2="1197.5"/><line x1="481.0" y1="1195.5" x2="511.1" y2="1193.2"/><line x1="477.1" y1="1190.5" x2="507.8" y2="1188.5"/><line x1="473.4" y1="1185.2" x2="504.7" y2="1183.6"/><line x1="470.0" y1="1179.7" x2="501.9" y2="1178.3"/><line x1="467.0" y1="1173.8" x2="499.4" y2="1172.8"/><line x1="464.3" y1="1167.8" x2="497.2" y2="1167.1"/><line x1="462.0" y1="1161.5" x2="495.3" y2="1161.1"/><line x1="460.0" y1="1155.0" x2="493.6" y2="1155.0"/><line x1="458.4" y1="1148.4" x2="492.3" y2="1148.8"/><line x1="457.2" y1="1141.7" x2="491.3" y2="1142.4"/><line x1="456.4" y1="1134.9" x2="490.7" y2="1136.0"/><line x1="456.0" y1="1128.0" x2="490.3" y2="1129.5"/><line x1="456.0" y1="1121.2" x2="490.3" y2="1123.1"/><line x1="456.4" y1="1114.3" x2="490.7" y2="1116.6"/><line x1="457.2" y1="1107.5" x2="491.3" y2="1110.2"/><line x1="458.4" y1="1100.8" x2="492.3" y2="1103.8"/><line x1="460.0" y1="1094.2" x2="493.6" y2="1097.6"/><line x1="462.0" y1="1087.7" x2="495.3" y2="1091.5"/><line x1="464.3" y1="1081.4" x2="497.2" y2="1085.5"/><line x1="467.0" y1="1075.3" x2="499.4" y2="1079.8"/><line x1="470.0" y1="1069.5" x2="501.9" y2="1074.3"/><line x1="473.4" y1="1064.0" x2="504.7" y2="1069.0"/><line x1="477.1" y1="1058.7" x2="507.8" y2="1064.1"/><line x1="481.0" y1="1053.7" x2="511.1" y2="1059.4"/><line x1="485.3" y1="1049.1" x2="514.6" y2="1055.1"/><line x1="489.8" y1="1044.9" x2="518.3" y2="1051.1"/><line x1="494.5" y1="1041.1" x2="522.3" y2="1047.4"/><line x1="499.5" y1="1037.6" x2="526.4" y2="1044.2"/><line x1="504.6" y1="1034.6" x2="530.6" y2="1041.3"/><line x1="510.0" y1="1032.0" x2="535.0" y2="1038.9"/><line x1="515.4" y1="1029.9" x2="539.6" y2="1036.9"/><line x1="521.0" y1="1028.3" x2="544.2" y2="1035.3"/><line x1="526.6" y1="1027.1" x2="548.8" y2="1034.2"/><line x1="532.3" y1="1026.3" x2="553.6" y2="1033.5"/><line x1="538.0" y1="1026.1" x2="558.3" y2="1033.3"/><line x1="543.7" y1="1026.3" x2="563.0" y2="1033.5"/><line x1="549.4" y1="1027.1" x2="567.8" y2="1034.2"/><line x1="555.0" y1="1028.3" x2="572.4" y2="1035.3"/><line x1="560.6" y1="1029.9" x2="577.0" y2="1036.9"/><line x1="566.0" y1="1032.0" x2="581.6" y2="1038.9"/><line x1="571.4" y1="1034.6" x2="586.0" y2="1041.3"/><line x1="576.5" y1="1037.6" x2="590.2" y2="1044.2"/><line x1="581.5" y1="1041.1" x2="594.3" y2="1047.4"/><line x1="586.2" y1="1044.9" x2="598.3" y2="1051.1"/></g>
<ellipse cx="558.3" cy="1126.3" rx="68.1" ry="93.0" fill="#f5f5f6" transform="rotate(4 558.3 1126.3)" />
<ellipse cx="560.0" cy="1126.3" rx="54.8" ry="79.7" fill="#e3e4e6" transform="rotate(4 560.0 1126.3)" />
<g clip-path="url(#wcl)">
<ellipse cx="544.0" cy="1127.0" rx="37.0" ry="74.0" fill="#222634" transform="rotate(4 544.0 1127.0)" />
<polygon points="506.4,1142.9 546.3,1136.2 546.3,1197.7 518.1,1201.0 506.4,1176.1" fill="#7d7e81"/>
<polygon points="535.5,1149.5 546.3,1147.9 546.3,1192.7 535.5,1191.1" fill="#1c1d1f"/>
<polygon points="518.1,1089.7 533.0,1088.1 533.0,1109.7 518.1,1109.7" fill="#8f9093"/>
<polygon points="533.0,1056.5 549.6,1056.5 549.6,1109.7 533.0,1109.7" fill="#f6f6f7"/>
<polygon points="533.0,1056.5 540.5,1058.2 540.5,1109.7 533.0,1109.7" fill="#dcdde0"/>
<polygon points="506.4,1156.2 526.4,1132.9 539.7,1136.2 518.1,1164.5 509.8,1172.8" fill="#eeeff0"/>
<polygon points="513.1,1103.0 572.9,1109.7 572.9,1132.9 513.1,1130.4" fill="#f4f4f5"/>
<polygon points="513.1,1123.0 572.9,1126.3 572.9,1132.9 513.1,1130.4" fill="#d5d6d9"/>
<ellipse cx="513.9" cy="1116.6" rx="6.5" ry="13.8" fill="#fafafa" />
</g>
<polygon points="546.3,1126.3 559.9,1123.0 559.9,1240.1 546.3,1231.8" fill="#d3d4d6"/>
<polygon points="559.9,1123.0 571.2,1119.6 584.5,1136.2 584.5,1259.2 559.9,1242.6" fill="#adaeb1"/>
<polygon points="546.3,1126.3 559.9,1123.0 571.2,1119.6 556.3,1123.8" fill="#efeff0"/>
<polygon points="559.9,1139.6 569.6,1141.2 569.6,1162.8 559.9,1161.2" fill="#6a6b6e"/>
<polygon points="562.1,1142.9 567.9,1143.9 567.9,1152.9 562.1,1152.0" fill="#d8d9db"/>
<ellipse cx="600.3" cy="1141.2" rx="33.0" ry="35.0" fill="#e6e7e9" />
<path d="M568.7 1124.6C567.4 1120.7 572.8 1115.9 576.2 1113.0C579.7 1110.1 584.8 1107.7 589.5 1107.2C594.2 1106.6 603.6 1108.1 604.5 1109.7C605.3 1111.2 597.5 1113.5 594.5 1116.3C591.4 1119.1 587.8 1123.0 586.2 1126.3C584.5 1129.6 587.4 1136.5 584.5 1136.2C581.6 1136.0 570.1 1128.5 568.7 1124.6Z" fill="#b5b6b9"/>
<path d="M572.9 1123.0C572.1 1121.0 576.8 1116.7 579.5 1114.7C582.3 1112.6 586.5 1111.1 589.5 1110.5C592.5 1109.9 597.8 1110.1 597.8 1111.3C597.8 1112.6 591.7 1115.5 589.5 1118.0C587.3 1120.5 587.3 1125.4 584.5 1126.3C581.7 1127.1 573.7 1124.9 572.9 1123.0Z" fill="#efeff0"/>
<polygon points="584.5,1136.2 632.7,1146.2 629.4,1169.5 584.5,1181.1" fill="#e6e7e9"/>
<ellipse cx="608.6" cy="1142.9" rx="11.5" ry="12.5" fill="#2b2c2f" />
<ellipse cx="609.8" cy="1142.9" rx="6.0" ry="7.0" fill="#0d0d0e" />
<polygon points="586.2,1181.9 628.5,1170.3 632.7,1191.1 589.5,1196.0 584.5,1189.4" fill="#a9c3e4"/>
<polygon points="586.2,1181.9 628.5,1170.3 629.4,1176.1 587.8,1188.6" fill="#d9e6f5"/>
<polygon points="580.4,1181.1 585.3,1180.3 591.2,1198.5 587.0,1200.2" fill="#e6e7e9"/>
<polygon points="628.5,1169.5 632.7,1167.8 641.8,1186.1 638.5,1187.7" fill="#e6e7e9"/>
<ellipse cx="590.3" cy="1170.3" rx="2.5" ry="2.5" fill="#c4c5c8" />
<ellipse cx="627.7" cy="1158.7" rx="2.5" ry="2.5" fill="#c4c5c8" />
<polygon points="588.5,1206.8 653.6,1183.5 688.6,1190.2 625.2,1216.8" fill="url(#swT)"/>
<polygon points="588.5,1206.8 625.2,1216.8 625.2,1255.2 590.2,1245.2" fill="#44b4ea"/>
<polygon points="625.2,1216.8 688.6,1190.2 686.9,1230.2 625.2,1255.2" fill="#3aa9e2"/>
<polygon points="615.2,1198.5 635.2,1192.5 643.6,1194.5 623.5,1200.8" fill="#d9c9c9"/>
<ellipse cx="636.9" cy="1243.5" rx="3.6" ry="4.6" fill="#2681b8" />
<ellipse cx="670.2" cy="1231.8" rx="3.6" ry="4.6" fill="#2681b8" />
<polygon points="651.9,1236.2 656.2,1234.8 656.2,1240.9 651.9,1242.2" fill="#e8f4fb"/>
</g>
<g stroke-linecap="butt" stroke-linejoin="miter">
<polyline points="640.0,301.7 1154.8,301.7 1187.3,275.4" fill="none" stroke="#8992a8" stroke-width="3.3" />
<polyline points="1161.0,307.0 1188.5,283.7" fill="none" stroke="#8992a8" stroke-width="3.3" />
<polyline points="291.0,610.0 323.6,638.0 597.0,638.0" fill="none" stroke="#8992a8" stroke-width="3.3" />
<polyline points="287.8,622.4 312.8,641.0" fill="none" stroke="#8992a8" stroke-width="3.3" />
<polyline points="392.0,931.0 424.4,959.4 713.0,959.4" fill="none" stroke="#8992a8" stroke-width="3.3" />
<polyline points="392.0,940.0 418.6,963.7" fill="none" stroke="#8992a8" stroke-width="3.3" />
<polyline points="1023.7,846.2 1224.8,846.2 1256.0,873.7" fill="none" stroke="#8992a8" stroke-width="3.3" />
<polyline points="1229.8,841.0 1257.0,865.0" fill="none" stroke="#8992a8" stroke-width="3.3" />
<polyline points="263.6,1128.7 293.6,1156.2 583.5,1156.5" fill="none" stroke="#8992a8" stroke-width="3.3" />
<polyline points="263.6,1137.4 288.6,1161.0" fill="none" stroke="#8992a8" stroke-width="3.3" />
<polyline points="306.0,1257.0 339.0,1228.2 622.0,1228.0" fill="none" stroke="#8992a8" stroke-width="3.3" />
<polyline points="306.0,1249.0 333.0,1225.0" fill="none" stroke="#8992a8" stroke-width="3.3" />
<polyline points="683.6,1169.0 1119.0,1170.0 1152.7,1196.2" fill="none" stroke="#8992a8" stroke-width="3.3" />
<polyline points="1125.0,1165.0 1154.0,1188.7" fill="none" stroke="#8992a8" stroke-width="3.3" />
<polyline points="617.0,1298.7 902.5,1298.7 934.4,1328.0" fill="none" stroke="#8992a8" stroke-width="3.3" />
<polyline points="908.7,1294.5 935.0,1318.0" fill="none" stroke="#8992a8" stroke-width="3.3" />
</g>
<text x="270.5" y="150" font-size="108" font-weight="700" fill="url(#tg)" textLength="903" lengthAdjust="spacingAndGlyphs">Exploded Diagram</text>
<text x="937.5" y="240.0" font-size="33" fill="#fff" textLength="181.0" lengthAdjust="spacingAndGlyphs" stroke="#21242f" stroke-width="0.5">Lightweight</text>
<text x="938.4" y="280.0" font-size="33" fill="#fff" textLength="204.0" lengthAdjust="spacingAndGlyphs" stroke="#21242f" stroke-width="0.5">Material Case</text>
<text x="92.0" y="560.7" font-size="33" fill="#fff" textLength="182.0" lengthAdjust="spacingAndGlyphs" stroke="#2f374b" stroke-width="0.5">Engineering</text>
<text x="93.0" y="600.7" font-size="33" fill="#fff" textLength="188.0" lengthAdjust="spacingAndGlyphs" stroke="#2f374b" stroke-width="0.5">Curved Keys</text>
<text x="306.5" y="943.2" font-size="33" fill="#fff" textLength="67.0" lengthAdjust="spacingAndGlyphs" stroke="#262b3b" stroke-width="0.5">PCB</text>
<text x="1223.6" y="918.0" font-size="33" fill="#fff" textLength="114.0" lengthAdjust="spacingAndGlyphs" stroke="#15171d" stroke-width="0.5">Lithium</text>
<text x="1223.6" y="959.0" font-size="33" fill="#fff" textLength="109.0" lengthAdjust="spacingAndGlyphs" stroke="#15171d" stroke-width="0.5">Battery</text>
<text x="953.8" y="1354.4" font-size="33" fill="#fff" textLength="234.0" lengthAdjust="spacingAndGlyphs" stroke="#121318" stroke-width="0.5">Mouse Bottom</text>
<text x="955.8" y="1397.4" font-size="33" fill="#fff" textLength="77.0" lengthAdjust="spacingAndGlyphs" stroke="#121318" stroke-width="0.5">Case</text>
<text x="133.0" y="1118.2" font-size="31" fill="#fff" textLength="205.5" lengthAdjust="spacingAndGlyphs" font-weight="700">TTC Encoder</text>
<text x="223.0" y="1306.2" font-size="31" fill="#fff" textLength="124.0" lengthAdjust="spacingAndGlyphs" font-weight="700">HUANO</text>
<text x="222.0" y="1346.6" font-size="31" fill="#fff" textLength="204.0" lengthAdjust="spacingAndGlyphs" font-weight="700">White Spots</text>
<text x="1178.4" y="1204.2" font-size="31" fill="#fff" textLength="129.0" lengthAdjust="spacingAndGlyphs" font-weight="700">PAW3311</text>
<text x="1179.2" y="1245.0" font-size="31" fill="#fff" textLength="114.0" lengthAdjust="spacingAndGlyphs" font-weight="700">Sensors</text>
</svg>
</body></html>
